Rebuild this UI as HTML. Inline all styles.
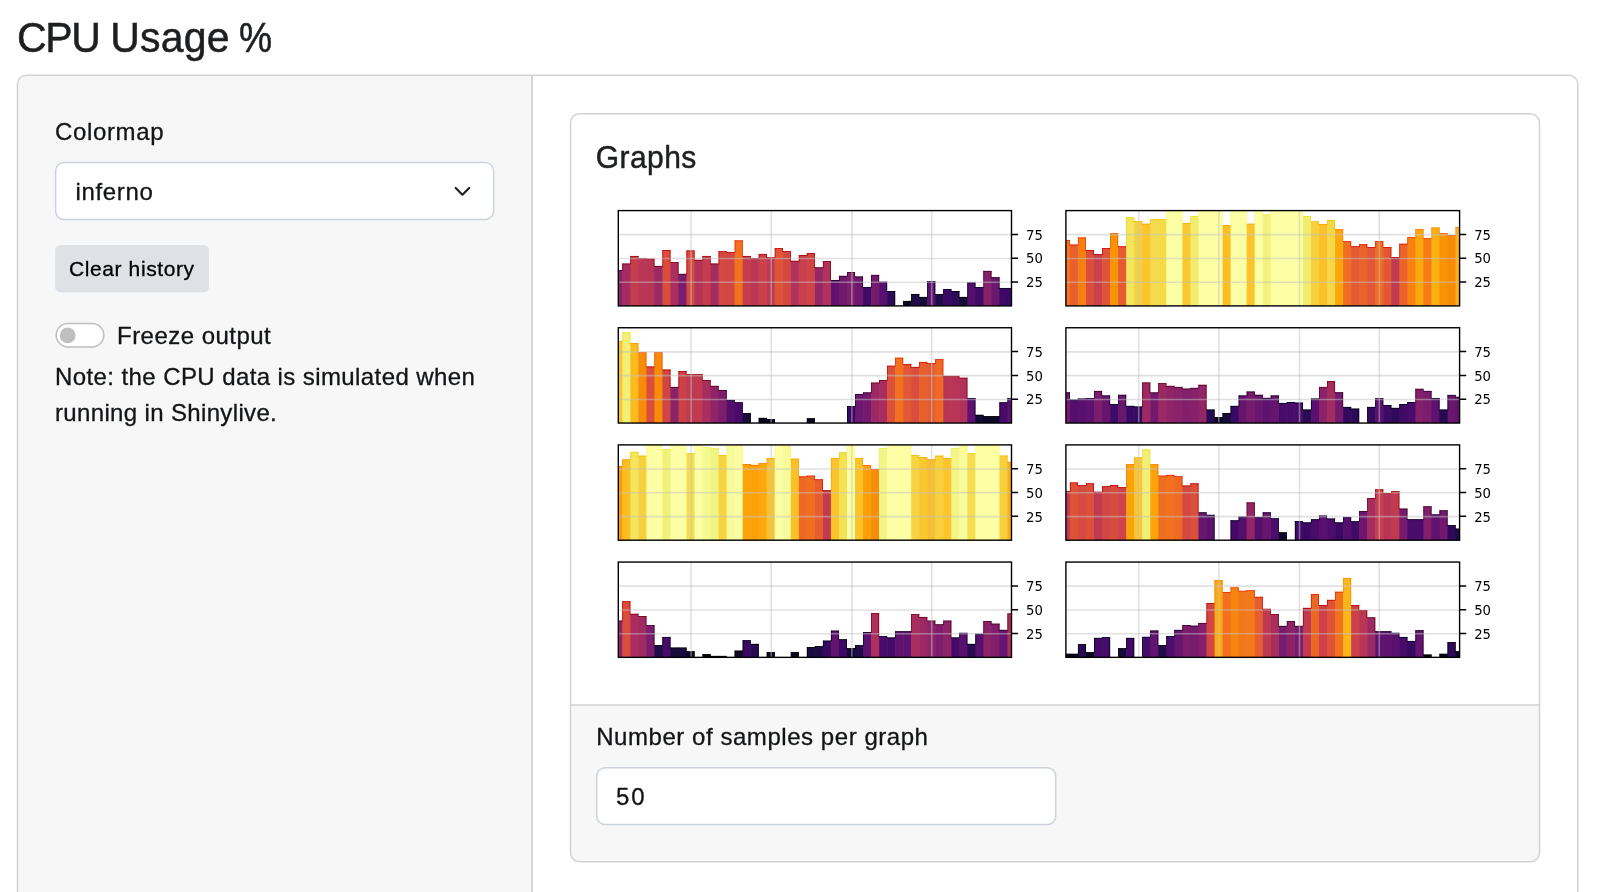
<!DOCTYPE html>
<html lang="en"><head><meta charset="utf-8"><title>CPU Usage %</title>
<style>
html,body{margin:0;padding:0;background:#fff;}
body{will-change:transform;width:1597px;height:892px;overflow:hidden;position:relative;font-family:"Liberation Sans",sans-serif;color:#1d1f21;}
#bg{position:absolute;left:0;top:0;}
.t{position:absolute;white-space:nowrap;line-height:1;margin:0;font-weight:400;}
h2.t{font-size:41px;font-weight:500;top:18.2px;-webkit-text-stroke:0.5px #1d1f21;transform-origin:0 34.4px;transform:scaleY(1.05);}
.lbl{font-size:24px;letter-spacing:0.42px;color:#121416;-webkit-text-stroke:0.3px #121416;}
#plots text{font-family:"DejaVu Sans",sans-serif;font-size:14px;fill:#000;}
</style></head><body>
<svg id="bg" width="1597" height="892" viewBox="0 0 1597 892">
<!-- outer layout -->
<defs><clipPath id="oc"><rect x="17.5" y="75.2" width="1560.3" height="900" rx="9"/></clipPath></defs>
<rect x="17.5" y="75.2" width="515" height="900" fill="#f7f7f7" clip-path="url(#oc)"/>
<path d="M532.0 75.2V892" stroke="#d2d2d2" stroke-width="1.8"/>
<rect x="17.5" y="75.2" width="1560.3" height="900" rx="9" fill="none" stroke="#d2d2d2" stroke-width="1.5"/>
<!-- card -->
<defs><clipPath id="cc"><rect x="570.5" y="113.8" width="969" height="748.0" rx="9"/></clipPath></defs>
<rect x="570.5" y="704.9" width="969" height="160" fill="#f7f7f7" clip-path="url(#cc)"/>
<path d="M570.5 704.9H1539.5" stroke="#d2d2d2" stroke-width="1.5"/>
<rect x="570.5" y="113.8" width="969" height="748.0" rx="9" fill="none" stroke="#d2d2d2" stroke-width="1.5"/>
<!-- select -->
<rect x="55.6" y="162.6" width="438" height="56.9" rx="8.5" fill="#fff" stroke="#ccd3dc" stroke-width="1.5"/>
<path d="M455.7 188l6.7 6.7 6.8-6.7" fill="none" stroke="#1f2328" stroke-width="2.2" stroke-linecap="round" stroke-linejoin="round"/>
<!-- button -->
<rect x="55.2" y="245" width="153.8" height="47.4" rx="5.5" fill="#dee2e6"/>
<!-- switch -->
<rect x="56.2" y="323.5" width="47.6" height="23.5" rx="11.75" fill="#fff" stroke="#bfbfbf" stroke-width="1.5"/>
<circle cx="67.7" cy="335.4" r="7.9" fill="#bfbfbf"/>
<!-- number input -->
<rect x="596.7" y="767.8" width="459" height="56.6" rx="8.5" fill="#fff" stroke="#ccd3dc" stroke-width="1.5"/>
<defs><filter id="soft" x="0" y="0" width="100%" height="100%" filterUnits="userSpaceOnUse" color-interpolation-filters="sRGB"><feGaussianBlur stdDeviation="0.4"/></filter></defs>
<g id="plots" filter="url(#soft)">
<g>
<rect x="618.30" y="210.60" width="393.20" height="95.30" fill="#fff"/>
<clipPath id="cp0"><rect x="618.30" y="210.60" width="393.20" height="95.30"/></clipPath>
<g clip-path="url(#cp0)">
<rect x="621.71" y="269.97" width="1.2" height="35.93" fill="#8a226a"/>
<rect x="629.74" y="263.59" width="1.2" height="42.31" fill="#a52c60"/>
<rect x="637.76" y="258.35" width="1.2" height="47.55" fill="#c43c4e"/>
<rect x="645.79" y="258.73" width="1.2" height="47.17" fill="#ba3655"/>
<rect x="653.81" y="265.97" width="1.2" height="39.93" fill="#b93556"/>
<rect x="661.83" y="265.97" width="1.2" height="39.93" fill="#9b2964"/>
<rect x="669.86" y="262.16" width="1.2" height="43.74" fill="#d94d3d"/>
<rect x="677.88" y="273.88" width="1.2" height="32.02" fill="#ab2f5e"/>
<rect x="685.91" y="273.88" width="1.2" height="32.02" fill="#7a1d6d"/>
<rect x="693.93" y="259.87" width="1.2" height="46.03" fill="#d74b3f"/>
<rect x="701.96" y="259.87" width="1.2" height="46.03" fill="#b43359"/>
<rect x="709.98" y="263.59" width="1.2" height="42.31" fill="#c43c4e"/>
<rect x="718.01" y="263.59" width="1.2" height="42.31" fill="#a52c60"/>
<rect x="726.03" y="252.15" width="1.2" height="53.75" fill="#d44842"/>
<rect x="734.06" y="252.15" width="1.2" height="53.75" fill="#d24644"/>
<rect x="742.08" y="255.96" width="1.2" height="49.94" fill="#f1711f"/>
<rect x="750.10" y="258.06" width="1.2" height="47.84" fill="#c43c4e"/>
<rect x="758.13" y="258.06" width="1.2" height="47.84" fill="#bc3754"/>
<rect x="766.15" y="257.39" width="1.2" height="48.51" fill="#cb4149"/>
<rect x="774.18" y="257.39" width="1.2" height="48.51" fill="#bf3952"/>
<rect x="782.20" y="251.20" width="1.2" height="54.70" fill="#df5337"/>
<rect x="790.23" y="260.82" width="1.2" height="45.08" fill="#d44842"/>
<rect x="798.25" y="260.82" width="1.2" height="45.08" fill="#b1325a"/>
<rect x="806.28" y="255.01" width="1.2" height="50.89" fill="#c73e4c"/>
<rect x="814.30" y="267.40" width="1.2" height="38.50" fill="#cf4446"/>
<rect x="822.32" y="267.40" width="1.2" height="38.50" fill="#952667"/>
<rect x="830.35" y="279.98" width="1.2" height="25.92" fill="#b0315b"/>
<rect x="838.37" y="279.98" width="1.2" height="25.92" fill="#5f136e"/>
<rect x="846.40" y="275.88" width="1.2" height="30.02" fill="#71196e"/>
<rect x="854.42" y="276.55" width="1.2" height="29.35" fill="#801f6c"/>
<rect x="862.45" y="287.13" width="1.2" height="18.77" fill="#6d186e"/>
<rect x="870.47" y="287.13" width="1.2" height="18.77" fill="#400a67"/>
<rect x="878.50" y="281.79" width="1.2" height="24.11" fill="#751b6e"/>
<rect x="886.52" y="291.03" width="1.2" height="14.87" fill="#57106e"/>
<rect x="910.59" y="300.94" width="1.2" height="4.96" fill="#08051d"/>
<rect x="918.62" y="296.94" width="1.2" height="8.96" fill="#210c4a"/>
<rect x="926.64" y="296.94" width="1.2" height="8.96" fill="#150b37"/>
<rect x="934.67" y="294.18" width="1.2" height="11.72" fill="#5a116e"/>
<rect x="942.69" y="294.18" width="1.2" height="11.72" fill="#1f0c48"/>
<rect x="950.72" y="291.03" width="1.2" height="14.87" fill="#380962"/>
<rect x="958.74" y="296.94" width="1.2" height="8.96" fill="#2d0b59"/>
<rect x="966.77" y="296.94" width="1.2" height="8.96" fill="#150b37"/>
<rect x="974.79" y="287.13" width="1.2" height="18.77" fill="#540f6d"/>
<rect x="982.81" y="287.13" width="1.2" height="18.77" fill="#400a67"/>
<rect x="990.84" y="277.31" width="1.2" height="28.59" fill="#85216b"/>
<rect x="998.86" y="287.98" width="1.2" height="17.92" fill="#6a176e"/>
<rect x="1006.89" y="287.98" width="1.2" height="17.92" fill="#3d0965"/>
<rect x="618.30" y="269.97" width="4.01" height="35.93" fill="#8a226a"/>
<rect x="622.31" y="263.59" width="8.02" height="42.31" fill="#a52c60"/>
<rect x="630.34" y="255.96" width="8.02" height="49.94" fill="#c43c4e"/>
<rect x="638.36" y="258.35" width="8.02" height="47.55" fill="#ba3655"/>
<rect x="646.39" y="258.73" width="8.02" height="47.17" fill="#b93556"/>
<rect x="654.41" y="265.97" width="8.02" height="39.93" fill="#9b2964"/>
<rect x="662.43" y="250.05" width="8.02" height="55.85" fill="#d94d3d"/>
<rect x="670.46" y="262.16" width="8.02" height="43.74" fill="#ab2f5e"/>
<rect x="678.48" y="273.88" width="8.02" height="32.02" fill="#7a1d6d"/>
<rect x="686.51" y="250.53" width="8.02" height="55.37" fill="#d74b3f"/>
<rect x="694.53" y="259.87" width="8.02" height="46.03" fill="#b43359"/>
<rect x="702.56" y="255.96" width="8.02" height="49.94" fill="#c43c4e"/>
<rect x="710.58" y="263.59" width="8.02" height="42.31" fill="#a52c60"/>
<rect x="718.61" y="251.20" width="8.02" height="54.70" fill="#d44842"/>
<rect x="726.63" y="252.15" width="8.02" height="53.75" fill="#d24644"/>
<rect x="734.66" y="240.43" width="8.02" height="65.47" fill="#f1711f"/>
<rect x="742.68" y="255.96" width="8.02" height="49.94" fill="#c43c4e"/>
<rect x="750.70" y="258.06" width="8.02" height="47.84" fill="#bc3754"/>
<rect x="758.73" y="253.96" width="8.02" height="51.94" fill="#cb4149"/>
<rect x="766.75" y="257.39" width="8.02" height="48.51" fill="#bf3952"/>
<rect x="774.78" y="248.15" width="8.02" height="57.75" fill="#df5337"/>
<rect x="782.80" y="251.20" width="8.02" height="54.70" fill="#d44842"/>
<rect x="790.83" y="260.82" width="8.02" height="45.08" fill="#b1325a"/>
<rect x="798.85" y="255.01" width="8.02" height="50.89" fill="#c73e4c"/>
<rect x="806.88" y="253.01" width="8.02" height="52.89" fill="#cf4446"/>
<rect x="814.90" y="267.40" width="8.02" height="38.50" fill="#952667"/>
<rect x="822.92" y="261.11" width="8.02" height="44.79" fill="#b0315b"/>
<rect x="830.95" y="279.98" width="8.02" height="25.92" fill="#5f136e"/>
<rect x="838.97" y="275.88" width="8.02" height="30.02" fill="#71196e"/>
<rect x="847.00" y="272.07" width="8.02" height="33.83" fill="#801f6c"/>
<rect x="855.02" y="276.55" width="8.02" height="29.35" fill="#6d186e"/>
<rect x="863.05" y="287.13" width="8.02" height="18.77" fill="#400a67"/>
<rect x="871.07" y="274.93" width="8.02" height="30.97" fill="#751b6e"/>
<rect x="879.10" y="281.79" width="8.02" height="24.11" fill="#57106e"/>
<rect x="887.12" y="291.03" width="8.02" height="14.87" fill="#2d0b59"/>
<rect x="903.17" y="300.94" width="8.02" height="4.96" fill="#08051d"/>
<rect x="911.19" y="293.99" width="8.02" height="11.91" fill="#210c4a"/>
<rect x="919.22" y="296.94" width="8.02" height="8.96" fill="#150b37"/>
<rect x="927.24" y="281.03" width="8.02" height="24.87" fill="#5a116e"/>
<rect x="935.27" y="294.18" width="8.02" height="11.72" fill="#1f0c48"/>
<rect x="943.29" y="289.13" width="8.02" height="16.77" fill="#380962"/>
<rect x="951.32" y="291.03" width="8.02" height="14.87" fill="#2d0b59"/>
<rect x="959.34" y="296.94" width="8.02" height="8.96" fill="#150b37"/>
<rect x="967.37" y="282.46" width="8.02" height="23.44" fill="#540f6d"/>
<rect x="975.39" y="287.13" width="8.02" height="18.77" fill="#400a67"/>
<rect x="983.41" y="270.92" width="8.02" height="34.98" fill="#85216b"/>
<rect x="991.44" y="277.31" width="8.02" height="28.59" fill="#6a176e"/>
<rect x="999.46" y="287.98" width="8.02" height="17.92" fill="#3d0965"/>
<rect x="1007.49" y="287.98" width="4.01" height="17.92" fill="#3d0965"/>
<rect x="618.30" y="269.97" width="4.01" height="0.75" fill="#4f001f"/>
<rect x="622.31" y="263.59" width="8.02" height="0.75" fill="#780011"/>
<rect x="622.31" y="263.59" width="0.75" height="7.14" fill="#780011"/>
<rect x="630.34" y="255.96" width="8.02" height="0.75" fill="#a70000"/>
<rect x="630.34" y="255.96" width="0.75" height="8.37" fill="#a70000"/>
<rect x="637.61" y="255.96" width="0.75" height="3.13" fill="#a70000"/>
<rect x="638.36" y="258.35" width="8.02" height="0.75" fill="#980000"/>
<rect x="645.64" y="258.35" width="0.75" height="1.13" fill="#980000"/>
<rect x="646.39" y="258.73" width="8.02" height="0.75" fill="#950002"/>
<rect x="653.66" y="258.73" width="0.75" height="7.99" fill="#950002"/>
<rect x="654.41" y="265.97" width="8.02" height="0.75" fill="#6a0017"/>
<rect x="662.43" y="250.05" width="8.02" height="0.75" fill="#c60000"/>
<rect x="662.43" y="250.05" width="0.75" height="16.67" fill="#c60000"/>
<rect x="669.71" y="250.05" width="0.75" height="12.85" fill="#c60000"/>
<rect x="670.46" y="262.16" width="8.02" height="0.75" fill="#81000d"/>
<rect x="677.73" y="262.16" width="0.75" height="12.47" fill="#81000d"/>
<rect x="678.48" y="273.88" width="8.02" height="0.75" fill="#380024"/>
<rect x="686.51" y="250.53" width="8.02" height="0.75" fill="#c30000"/>
<rect x="686.51" y="250.53" width="0.75" height="24.10" fill="#c30000"/>
<rect x="693.78" y="250.53" width="0.75" height="10.09" fill="#c30000"/>
<rect x="694.53" y="259.87" width="8.02" height="0.75" fill="#8f0006"/>
<rect x="702.56" y="255.96" width="8.02" height="0.75" fill="#a70000"/>
<rect x="702.56" y="255.96" width="0.75" height="4.66" fill="#a70000"/>
<rect x="709.83" y="255.96" width="0.75" height="8.37" fill="#a70000"/>
<rect x="710.58" y="263.59" width="8.02" height="0.75" fill="#780011"/>
<rect x="718.61" y="251.20" width="8.02" height="0.75" fill="#bf0000"/>
<rect x="718.61" y="251.20" width="0.75" height="13.14" fill="#bf0000"/>
<rect x="725.88" y="251.20" width="0.75" height="1.70" fill="#bf0000"/>
<rect x="726.63" y="252.15" width="8.02" height="0.75" fill="#bb0000"/>
<rect x="734.66" y="240.43" width="8.02" height="0.75" fill="#ea2a00"/>
<rect x="734.66" y="240.43" width="0.75" height="12.47" fill="#ea2a00"/>
<rect x="741.93" y="240.43" width="0.75" height="16.28" fill="#ea2a00"/>
<rect x="742.68" y="255.96" width="8.02" height="0.75" fill="#a70000"/>
<rect x="749.95" y="255.96" width="0.75" height="2.85" fill="#a70000"/>
<rect x="750.70" y="258.06" width="8.02" height="0.75" fill="#9a0000"/>
<rect x="758.73" y="253.96" width="8.02" height="0.75" fill="#b10000"/>
<rect x="758.73" y="253.96" width="0.75" height="4.85" fill="#b10000"/>
<rect x="766.00" y="253.96" width="0.75" height="4.18" fill="#b10000"/>
<rect x="766.75" y="257.39" width="8.02" height="0.75" fill="#9e0000"/>
<rect x="774.78" y="248.15" width="8.02" height="0.75" fill="#cf0000"/>
<rect x="774.78" y="248.15" width="0.75" height="9.99" fill="#cf0000"/>
<rect x="782.05" y="248.15" width="0.75" height="3.80" fill="#cf0000"/>
<rect x="782.80" y="251.20" width="8.02" height="0.75" fill="#bf0000"/>
<rect x="790.08" y="251.20" width="0.75" height="10.38" fill="#bf0000"/>
<rect x="790.83" y="260.82" width="8.02" height="0.75" fill="#8a0008"/>
<rect x="798.85" y="255.01" width="8.02" height="0.75" fill="#ab0000"/>
<rect x="798.85" y="255.01" width="0.75" height="6.56" fill="#ab0000"/>
<rect x="806.88" y="253.01" width="8.02" height="0.75" fill="#b70000"/>
<rect x="806.88" y="253.01" width="0.75" height="2.75" fill="#b70000"/>
<rect x="814.15" y="253.01" width="0.75" height="15.14" fill="#b70000"/>
<rect x="814.90" y="267.40" width="8.02" height="0.75" fill="#60001a"/>
<rect x="822.92" y="261.11" width="8.02" height="0.75" fill="#880009"/>
<rect x="822.92" y="261.11" width="0.75" height="7.04" fill="#880009"/>
<rect x="830.20" y="261.11" width="0.75" height="19.62" fill="#880009"/>
<rect x="830.95" y="279.98" width="8.02" height="0.75" fill="#0f0026"/>
<rect x="838.97" y="275.88" width="8.02" height="0.75" fill="#290026"/>
<rect x="838.97" y="275.88" width="0.75" height="4.85" fill="#290026"/>
<rect x="847.00" y="272.07" width="8.02" height="0.75" fill="#410022"/>
<rect x="847.00" y="272.07" width="0.75" height="4.56" fill="#410022"/>
<rect x="854.27" y="272.07" width="0.75" height="5.23" fill="#410022"/>
<rect x="855.02" y="276.55" width="8.02" height="0.75" fill="#250026"/>
<rect x="862.30" y="276.55" width="0.75" height="11.33" fill="#250026"/>
<rect x="863.05" y="287.13" width="8.02" height="0.75" fill="#00001b"/>
<rect x="871.07" y="274.93" width="8.02" height="0.75" fill="#300025"/>
<rect x="871.07" y="274.93" width="0.75" height="12.95" fill="#300025"/>
<rect x="878.35" y="274.93" width="0.75" height="7.61" fill="#300025"/>
<rect x="879.10" y="281.79" width="8.02" height="0.75" fill="#030025"/>
<rect x="886.37" y="281.79" width="0.75" height="9.99" fill="#030025"/>
<rect x="887.12" y="291.03" width="8.02" height="0.75" fill="#000006"/>
<rect x="894.39" y="291.03" width="0.75" height="14.87" fill="#000006"/>
<rect x="903.17" y="300.94" width="8.02" height="0.75" fill="#000000"/>
<rect x="903.17" y="300.94" width="0.75" height="4.96" fill="#000000"/>
<rect x="911.19" y="293.99" width="8.02" height="0.75" fill="#000000"/>
<rect x="911.19" y="293.99" width="0.75" height="7.71" fill="#000000"/>
<rect x="918.47" y="293.99" width="0.75" height="3.70" fill="#000000"/>
<rect x="919.22" y="296.94" width="8.02" height="0.75" fill="#000000"/>
<rect x="927.24" y="281.03" width="8.02" height="0.75" fill="#080025"/>
<rect x="927.24" y="281.03" width="0.75" height="16.67" fill="#080025"/>
<rect x="934.52" y="281.03" width="0.75" height="13.90" fill="#080025"/>
<rect x="935.27" y="294.18" width="8.02" height="0.75" fill="#000000"/>
<rect x="943.29" y="289.13" width="8.02" height="0.75" fill="#000013"/>
<rect x="943.29" y="289.13" width="0.75" height="5.80" fill="#000013"/>
<rect x="950.57" y="289.13" width="0.75" height="2.66" fill="#000013"/>
<rect x="951.32" y="291.03" width="8.02" height="0.75" fill="#000006"/>
<rect x="958.59" y="291.03" width="0.75" height="6.66" fill="#000006"/>
<rect x="959.34" y="296.94" width="8.02" height="0.75" fill="#000000"/>
<rect x="967.37" y="282.46" width="8.02" height="0.75" fill="#000024"/>
<rect x="967.37" y="282.46" width="0.75" height="15.24" fill="#000024"/>
<rect x="974.64" y="282.46" width="0.75" height="5.42" fill="#000024"/>
<rect x="975.39" y="287.13" width="8.02" height="0.75" fill="#00001b"/>
<rect x="983.41" y="270.92" width="8.02" height="0.75" fill="#480021"/>
<rect x="983.41" y="270.92" width="0.75" height="16.95" fill="#480021"/>
<rect x="990.69" y="270.92" width="0.75" height="7.14" fill="#480021"/>
<rect x="991.44" y="277.31" width="8.02" height="0.75" fill="#200026"/>
<rect x="998.71" y="277.31" width="0.75" height="11.42" fill="#200026"/>
<rect x="999.46" y="287.98" width="8.02" height="0.75" fill="#000018"/>
<rect x="1007.49" y="287.98" width="4.01" height="0.75" fill="#000018"/>
</g>
<path d="M691.10 210.60V305.90M771.20 210.60V305.90M851.90 210.60V305.90M931.70 210.60V305.90" stroke="#c4c4c4" stroke-opacity="0.5" stroke-width="1.6" fill="none"/>
<path d="M618.30 282.32H1011.50M618.30 258.50H1011.50M618.30 234.67H1011.50" stroke="#c4c4c4" stroke-opacity="0.5" stroke-width="1.6" fill="none"/>
<path d="M1011.50 282.07h6.6M1011.50 258.25h6.6M1011.50 234.42h6.6" stroke="#000" stroke-width="1.5" fill="none"/>
<rect x="618.30" y="210.60" width="393.20" height="95.30" fill="none" stroke="#000" stroke-width="1.4"/>
<text transform="translate(1026.10,287.22) scale(0.945,1)">25</text>
<text transform="translate(1026.10,263.40) scale(0.945,1)">50</text>
<text transform="translate(1026.10,239.57) scale(0.945,1)">75</text>
</g>
<g>
<rect x="1065.90" y="210.60" width="393.70" height="95.30" fill="#fff"/>
<clipPath id="cp1"><rect x="1065.90" y="210.60" width="393.70" height="95.30"/></clipPath>
<g clip-path="url(#cp1)">
<rect x="1069.32" y="244.62" width="1.2" height="61.28" fill="#f2741c"/>
<rect x="1077.35" y="244.62" width="1.2" height="61.28" fill="#e8602d"/>
<rect x="1085.39" y="250.05" width="1.2" height="55.85" fill="#f67e14"/>
<rect x="1093.42" y="254.25" width="1.2" height="51.65" fill="#d94d3d"/>
<rect x="1101.46" y="254.25" width="1.2" height="51.65" fill="#ca404a"/>
<rect x="1109.49" y="248.15" width="1.2" height="57.75" fill="#df5337"/>
<rect x="1117.53" y="246.34" width="1.2" height="59.56" fill="#fa9407"/>
<rect x="1125.56" y="246.34" width="1.2" height="59.56" fill="#e45a31"/>
<rect x="1133.59" y="221.27" width="1.2" height="84.63" fill="#f3e55d"/>
<rect x="1141.63" y="223.75" width="1.2" height="82.15" fill="#f7d13d"/>
<rect x="1149.66" y="223.75" width="1.2" height="82.15" fill="#fac42a"/>
<rect x="1157.70" y="219.18" width="1.2" height="86.72" fill="#f5db4c"/>
<rect x="1165.73" y="219.18" width="1.2" height="86.72" fill="#f5db4c"/>
<rect x="1173.77" y="210.60" width="1.2" height="95.30" fill="#fcffa4"/>
<rect x="1181.80" y="223.18" width="1.2" height="82.72" fill="#fcffa4"/>
<rect x="1189.84" y="223.18" width="1.2" height="82.72" fill="#f9c72f"/>
<rect x="1197.87" y="216.13" width="1.2" height="89.77" fill="#f1ec6d"/>
<rect x="1205.91" y="210.60" width="1.2" height="95.30" fill="#fcffa4"/>
<rect x="1213.94" y="210.60" width="1.2" height="95.30" fill="#fcffa4"/>
<rect x="1221.98" y="225.09" width="1.2" height="80.81" fill="#fcffa4"/>
<rect x="1230.01" y="225.09" width="1.2" height="80.81" fill="#fbbe23"/>
<rect x="1238.05" y="210.60" width="1.2" height="95.30" fill="#fcffa4"/>
<rect x="1246.08" y="223.75" width="1.2" height="82.15" fill="#fcffa4"/>
<rect x="1254.12" y="223.75" width="1.2" height="82.15" fill="#fac42a"/>
<rect x="1262.15" y="214.41" width="1.2" height="91.49" fill="#fcffa4"/>
<rect x="1270.18" y="214.41" width="1.2" height="91.49" fill="#f2f27d"/>
<rect x="1278.22" y="210.60" width="1.2" height="95.30" fill="#fcffa4"/>
<rect x="1286.25" y="210.60" width="1.2" height="95.30" fill="#fcffa4"/>
<rect x="1294.29" y="210.60" width="1.2" height="95.30" fill="#fcffa4"/>
<rect x="1302.32" y="216.13" width="1.2" height="89.77" fill="#fcffa4"/>
<rect x="1310.36" y="221.37" width="1.2" height="84.53" fill="#f1ec6d"/>
<rect x="1318.39" y="224.04" width="1.2" height="81.86" fill="#f7d13d"/>
<rect x="1326.43" y="224.04" width="1.2" height="81.86" fill="#fac228"/>
<rect x="1334.46" y="229.18" width="1.2" height="76.72" fill="#f6d746"/>
<rect x="1342.50" y="241.29" width="1.2" height="64.61" fill="#fca80d"/>
<rect x="1350.53" y="246.34" width="1.2" height="59.56" fill="#ef6e21"/>
<rect x="1358.57" y="246.34" width="1.2" height="59.56" fill="#e45a31"/>
<rect x="1366.60" y="247.10" width="1.2" height="58.80" fill="#e9612b"/>
<rect x="1374.64" y="247.10" width="1.2" height="58.80" fill="#e15635"/>
<rect x="1382.67" y="247.10" width="1.2" height="58.80" fill="#ef6e21"/>
<rect x="1390.71" y="257.11" width="1.2" height="48.79" fill="#e15635"/>
<rect x="1398.74" y="257.11" width="1.2" height="48.79" fill="#c03a51"/>
<rect x="1406.77" y="243.76" width="1.2" height="62.14" fill="#ea632a"/>
<rect x="1414.81" y="237.00" width="1.2" height="68.90" fill="#f78212"/>
<rect x="1422.84" y="238.24" width="1.2" height="67.66" fill="#fca80d"/>
<rect x="1430.88" y="238.24" width="1.2" height="67.66" fill="#f57b17"/>
<rect x="1438.91" y="233.09" width="1.2" height="72.81" fill="#fcb014"/>
<rect x="1446.95" y="235.00" width="1.2" height="70.90" fill="#fa9407"/>
<rect x="1454.98" y="235.00" width="1.2" height="70.90" fill="#f98b0b"/>
<rect x="1065.90" y="239.95" width="4.02" height="65.95" fill="#f2741c"/>
<rect x="1069.92" y="244.62" width="8.03" height="61.28" fill="#e8602d"/>
<rect x="1077.95" y="237.47" width="8.03" height="68.43" fill="#f67e14"/>
<rect x="1085.99" y="250.05" width="8.03" height="55.85" fill="#d94d3d"/>
<rect x="1094.02" y="254.25" width="8.03" height="51.65" fill="#ca404a"/>
<rect x="1102.06" y="248.15" width="8.03" height="57.75" fill="#df5337"/>
<rect x="1110.09" y="233.09" width="8.03" height="72.81" fill="#fa9407"/>
<rect x="1118.13" y="246.34" width="8.03" height="59.56" fill="#e45a31"/>
<rect x="1126.16" y="217.37" width="8.03" height="88.53" fill="#f3e55d"/>
<rect x="1134.19" y="221.27" width="8.03" height="84.63" fill="#f7d13d"/>
<rect x="1142.23" y="223.75" width="8.03" height="82.15" fill="#fac42a"/>
<rect x="1150.26" y="219.18" width="8.03" height="86.72" fill="#f5db4c"/>
<rect x="1158.30" y="219.18" width="8.03" height="86.72" fill="#f5db4c"/>
<rect x="1166.33" y="210.60" width="8.03" height="95.30" fill="#fcffa4"/>
<rect x="1174.37" y="210.60" width="8.03" height="95.30" fill="#fcffa4"/>
<rect x="1182.40" y="223.18" width="8.03" height="82.72" fill="#f9c72f"/>
<rect x="1190.44" y="216.13" width="8.03" height="89.77" fill="#f1ec6d"/>
<rect x="1198.47" y="210.60" width="8.03" height="95.30" fill="#fcffa4"/>
<rect x="1206.51" y="210.60" width="8.03" height="95.30" fill="#fcffa4"/>
<rect x="1214.54" y="210.60" width="8.03" height="95.30" fill="#fcffa4"/>
<rect x="1222.58" y="225.09" width="8.03" height="80.81" fill="#fbbe23"/>
<rect x="1230.61" y="210.60" width="8.03" height="95.30" fill="#fcffa4"/>
<rect x="1238.65" y="210.60" width="8.03" height="95.30" fill="#fcffa4"/>
<rect x="1246.68" y="223.75" width="8.03" height="82.15" fill="#fac42a"/>
<rect x="1254.72" y="210.60" width="8.03" height="95.30" fill="#fcffa4"/>
<rect x="1262.75" y="214.41" width="8.03" height="91.49" fill="#f2f27d"/>
<rect x="1270.78" y="210.60" width="8.03" height="95.30" fill="#fcffa4"/>
<rect x="1278.82" y="210.60" width="8.03" height="95.30" fill="#fcffa4"/>
<rect x="1286.85" y="210.60" width="8.03" height="95.30" fill="#fcffa4"/>
<rect x="1294.89" y="210.60" width="8.03" height="95.30" fill="#fcffa4"/>
<rect x="1302.92" y="216.13" width="8.03" height="89.77" fill="#f1ec6d"/>
<rect x="1310.96" y="221.37" width="8.03" height="84.53" fill="#f7d13d"/>
<rect x="1318.99" y="224.04" width="8.03" height="81.86" fill="#fac228"/>
<rect x="1327.03" y="220.13" width="8.03" height="85.77" fill="#f6d746"/>
<rect x="1335.06" y="229.18" width="8.03" height="76.72" fill="#fca80d"/>
<rect x="1343.10" y="241.29" width="8.03" height="64.61" fill="#ef6e21"/>
<rect x="1351.13" y="246.34" width="8.03" height="59.56" fill="#e45a31"/>
<rect x="1359.17" y="244.34" width="8.03" height="61.56" fill="#e9612b"/>
<rect x="1367.20" y="247.10" width="8.03" height="58.80" fill="#e15635"/>
<rect x="1375.24" y="241.29" width="8.03" height="64.61" fill="#ef6e21"/>
<rect x="1383.27" y="247.10" width="8.03" height="58.80" fill="#e15635"/>
<rect x="1391.31" y="257.11" width="8.03" height="48.79" fill="#c03a51"/>
<rect x="1399.34" y="243.76" width="8.03" height="62.14" fill="#ea632a"/>
<rect x="1407.37" y="237.00" width="8.03" height="68.90" fill="#f78212"/>
<rect x="1415.41" y="229.18" width="8.03" height="76.72" fill="#fca80d"/>
<rect x="1423.44" y="238.24" width="8.03" height="67.66" fill="#f57b17"/>
<rect x="1431.48" y="227.56" width="8.03" height="78.34" fill="#fcb014"/>
<rect x="1439.51" y="233.09" width="8.03" height="72.81" fill="#fa9407"/>
<rect x="1447.55" y="235.00" width="8.03" height="70.90" fill="#f98b0b"/>
<rect x="1455.58" y="226.99" width="4.02" height="78.91" fill="#fcb216"/>
<rect x="1065.90" y="239.95" width="4.02" height="0.75" fill="#ec2f00"/>
<rect x="1069.17" y="239.95" width="0.75" height="5.42" fill="#ec2f00"/>
<rect x="1069.92" y="244.62" width="8.03" height="0.75" fill="#dc1000"/>
<rect x="1077.95" y="237.47" width="8.03" height="0.75" fill="#f13e00"/>
<rect x="1077.95" y="237.47" width="0.75" height="7.90" fill="#f13e00"/>
<rect x="1085.24" y="237.47" width="0.75" height="13.33" fill="#f13e00"/>
<rect x="1085.99" y="250.05" width="8.03" height="0.75" fill="#c60000"/>
<rect x="1093.27" y="250.05" width="0.75" height="4.94" fill="#c60000"/>
<rect x="1094.02" y="254.25" width="8.03" height="0.75" fill="#af0000"/>
<rect x="1102.06" y="248.15" width="8.03" height="0.75" fill="#cf0000"/>
<rect x="1102.06" y="248.15" width="0.75" height="6.85" fill="#cf0000"/>
<rect x="1110.09" y="233.09" width="8.03" height="0.75" fill="#f85e00"/>
<rect x="1110.09" y="233.09" width="0.75" height="15.81" fill="#f85e00"/>
<rect x="1117.38" y="233.09" width="0.75" height="14.00" fill="#f85e00"/>
<rect x="1118.13" y="246.34" width="8.03" height="0.75" fill="#d70800"/>
<rect x="1126.16" y="217.37" width="8.03" height="0.75" fill="#ecd70c"/>
<rect x="1126.16" y="217.37" width="0.75" height="29.72" fill="#ecd70c"/>
<rect x="1133.44" y="217.37" width="0.75" height="4.66" fill="#ecd70c"/>
<rect x="1134.19" y="221.27" width="8.03" height="0.75" fill="#f3ba00"/>
<rect x="1141.48" y="221.27" width="0.75" height="3.23" fill="#f3ba00"/>
<rect x="1142.23" y="223.75" width="8.03" height="0.75" fill="#f7a600"/>
<rect x="1150.26" y="219.18" width="8.03" height="0.75" fill="#f0c900"/>
<rect x="1150.26" y="219.18" width="0.75" height="5.32" fill="#f0c900"/>
<rect x="1158.30" y="219.18" width="8.03" height="0.75" fill="#f0c900"/>
<rect x="1166.33" y="210.60" width="0.75" height="9.33" fill="#fbfe77"/>
<rect x="1181.65" y="210.60" width="0.75" height="13.33" fill="#fbfe77"/>
<rect x="1182.40" y="223.18" width="8.03" height="0.75" fill="#f6ac00"/>
<rect x="1190.44" y="216.13" width="8.03" height="0.75" fill="#ebe224"/>
<rect x="1190.44" y="216.13" width="0.75" height="7.80" fill="#ebe224"/>
<rect x="1198.47" y="210.60" width="0.75" height="6.28" fill="#fbfe77"/>
<rect x="1221.83" y="210.60" width="0.75" height="15.24" fill="#fbfe77"/>
<rect x="1222.58" y="225.09" width="8.03" height="0.75" fill="#f99d00"/>
<rect x="1230.61" y="210.60" width="0.75" height="15.24" fill="#fbfe77"/>
<rect x="1245.93" y="210.60" width="0.75" height="13.90" fill="#fbfe77"/>
<rect x="1246.68" y="223.75" width="8.03" height="0.75" fill="#f7a600"/>
<rect x="1254.72" y="210.60" width="0.75" height="13.90" fill="#fbfe77"/>
<rect x="1262.00" y="210.60" width="0.75" height="4.56" fill="#fbfe77"/>
<rect x="1262.75" y="214.41" width="8.03" height="0.75" fill="#ebec3c"/>
<rect x="1270.78" y="210.60" width="0.75" height="4.56" fill="#fbfe77"/>
<rect x="1302.17" y="210.60" width="0.75" height="6.28" fill="#fbfe77"/>
<rect x="1302.92" y="216.13" width="8.03" height="0.75" fill="#ebe224"/>
<rect x="1310.21" y="216.13" width="0.75" height="5.99" fill="#ebe224"/>
<rect x="1310.96" y="221.37" width="8.03" height="0.75" fill="#f3ba00"/>
<rect x="1318.24" y="221.37" width="0.75" height="3.42" fill="#f3ba00"/>
<rect x="1318.99" y="224.04" width="8.03" height="0.75" fill="#f8a300"/>
<rect x="1327.03" y="220.13" width="8.03" height="0.75" fill="#f1c300"/>
<rect x="1327.03" y="220.13" width="0.75" height="4.66" fill="#f1c300"/>
<rect x="1334.31" y="220.13" width="0.75" height="9.80" fill="#f1c300"/>
<rect x="1335.06" y="229.18" width="8.03" height="0.75" fill="#fa7d00"/>
<rect x="1342.35" y="229.18" width="0.75" height="12.85" fill="#fa7d00"/>
<rect x="1343.10" y="241.29" width="8.03" height="0.75" fill="#e82500"/>
<rect x="1350.38" y="241.29" width="0.75" height="5.80" fill="#e82500"/>
<rect x="1351.13" y="246.34" width="8.03" height="0.75" fill="#d70800"/>
<rect x="1359.17" y="244.34" width="8.03" height="0.75" fill="#de1200"/>
<rect x="1359.17" y="244.34" width="0.75" height="2.75" fill="#de1200"/>
<rect x="1366.45" y="244.34" width="0.75" height="3.51" fill="#de1200"/>
<rect x="1367.20" y="247.10" width="8.03" height="0.75" fill="#d20200"/>
<rect x="1375.24" y="241.29" width="8.03" height="0.75" fill="#e82500"/>
<rect x="1375.24" y="241.29" width="0.75" height="6.56" fill="#e82500"/>
<rect x="1382.52" y="241.29" width="0.75" height="6.56" fill="#e82500"/>
<rect x="1383.27" y="247.10" width="8.03" height="0.75" fill="#d20200"/>
<rect x="1390.56" y="247.10" width="0.75" height="10.76" fill="#d20200"/>
<rect x="1391.31" y="257.11" width="8.03" height="0.75" fill="#a00000"/>
<rect x="1399.34" y="243.76" width="8.03" height="0.75" fill="#df1500"/>
<rect x="1399.34" y="243.76" width="0.75" height="14.09" fill="#df1500"/>
<rect x="1407.37" y="237.00" width="8.03" height="0.75" fill="#f34300"/>
<rect x="1407.37" y="237.00" width="0.75" height="7.52" fill="#f34300"/>
<rect x="1415.41" y="229.18" width="8.03" height="0.75" fill="#fa7d00"/>
<rect x="1415.41" y="229.18" width="0.75" height="8.56" fill="#fa7d00"/>
<rect x="1422.69" y="229.18" width="0.75" height="9.80" fill="#fa7d00"/>
<rect x="1423.44" y="238.24" width="8.03" height="0.75" fill="#ef3900"/>
<rect x="1431.48" y="227.56" width="8.03" height="0.75" fill="#fa8900"/>
<rect x="1431.48" y="227.56" width="0.75" height="11.42" fill="#fa8900"/>
<rect x="1438.76" y="227.56" width="0.75" height="6.28" fill="#fa8900"/>
<rect x="1439.51" y="233.09" width="8.03" height="0.75" fill="#f85e00"/>
<rect x="1446.80" y="233.09" width="0.75" height="2.66" fill="#f85e00"/>
<rect x="1447.55" y="235.00" width="8.03" height="0.75" fill="#f65100"/>
<rect x="1455.58" y="226.99" width="4.02" height="0.75" fill="#fa8b00"/>
<rect x="1455.58" y="226.99" width="0.75" height="8.76" fill="#fa8b00"/>
</g>
<path d="M1138.70 210.60V305.90M1218.80 210.60V305.90M1299.50 210.60V305.90M1379.30 210.60V305.90" stroke="#c4c4c4" stroke-opacity="0.5" stroke-width="1.6" fill="none"/>
<path d="M1065.90 282.32H1459.60M1065.90 258.50H1459.60M1065.90 234.67H1459.60" stroke="#c4c4c4" stroke-opacity="0.5" stroke-width="1.6" fill="none"/>
<path d="M1459.60 282.07h6.6M1459.60 258.25h6.6M1459.60 234.42h6.6" stroke="#000" stroke-width="1.5" fill="none"/>
<rect x="1065.90" y="210.60" width="393.70" height="95.30" fill="none" stroke="#000" stroke-width="1.4"/>
<text transform="translate(1474.20,287.22) scale(0.945,1)">25</text>
<text transform="translate(1474.20,263.40) scale(0.945,1)">50</text>
<text transform="translate(1474.20,239.57) scale(0.945,1)">75</text>
</g>
<g>
<rect x="618.30" y="327.75" width="393.20" height="95.30" fill="#fff"/>
<clipPath id="cp2"><rect x="618.30" y="327.75" width="393.20" height="95.30"/></clipPath>
<g clip-path="url(#cp2)">
<rect x="621.71" y="341.00" width="1.2" height="82.05" fill="#fac42a"/>
<rect x="629.74" y="343.00" width="1.2" height="80.05" fill="#f1ef75"/>
<rect x="637.76" y="352.05" width="1.2" height="71.00" fill="#fbba1f"/>
<rect x="645.79" y="366.54" width="1.2" height="56.51" fill="#f98b0b"/>
<rect x="653.81" y="366.54" width="1.2" height="56.51" fill="#da4e3c"/>
<rect x="661.83" y="369.59" width="1.2" height="53.46" fill="#f98b0b"/>
<rect x="669.86" y="386.93" width="1.2" height="36.12" fill="#d04545"/>
<rect x="677.88" y="386.93" width="1.2" height="36.12" fill="#8c2369"/>
<rect x="685.91" y="374.07" width="1.2" height="48.98" fill="#cb4149"/>
<rect x="693.93" y="374.07" width="1.2" height="48.98" fill="#c03a51"/>
<rect x="701.96" y="380.07" width="1.2" height="42.98" fill="#c03a51"/>
<rect x="709.98" y="385.88" width="1.2" height="37.17" fill="#a82e5f"/>
<rect x="718.01" y="389.98" width="1.2" height="33.07" fill="#8f2469"/>
<rect x="726.03" y="399.89" width="1.2" height="23.16" fill="#7d1e6d"/>
<rect x="734.06" y="402.37" width="1.2" height="20.68" fill="#540f6d"/>
<rect x="742.08" y="413.14" width="1.2" height="9.91" fill="#490b6a"/>
<rect x="766.15" y="419.24" width="1.2" height="3.81" fill="#08051d"/>
<rect x="854.42" y="406.18" width="1.2" height="16.87" fill="#380962"/>
<rect x="862.45" y="394.08" width="1.2" height="28.97" fill="#6c186e"/>
<rect x="870.47" y="392.46" width="1.2" height="30.59" fill="#741a6e"/>
<rect x="878.50" y="382.64" width="1.2" height="40.41" fill="#9d2964"/>
<rect x="886.52" y="380.07" width="1.2" height="42.98" fill="#a82e5f"/>
<rect x="894.54" y="365.77" width="1.2" height="57.28" fill="#dd513a"/>
<rect x="902.57" y="364.06" width="1.2" height="58.99" fill="#f1711f"/>
<rect x="910.59" y="366.92" width="1.2" height="56.13" fill="#e25734"/>
<rect x="918.62" y="366.92" width="1.2" height="56.13" fill="#d94d3d"/>
<rect x="926.64" y="363.20" width="1.2" height="59.85" fill="#e8602d"/>
<rect x="934.67" y="363.20" width="1.2" height="59.85" fill="#e45a31"/>
<rect x="942.69" y="375.88" width="1.2" height="47.17" fill="#ee6a24"/>
<rect x="950.72" y="375.88" width="1.2" height="47.17" fill="#b93556"/>
<rect x="958.74" y="377.78" width="1.2" height="45.27" fill="#b93556"/>
<rect x="966.77" y="397.99" width="1.2" height="25.06" fill="#b1325a"/>
<rect x="974.79" y="414.85" width="1.2" height="8.20" fill="#5c126e"/>
<rect x="982.81" y="416.19" width="1.2" height="6.86" fill="#120a32"/>
<rect x="990.84" y="416.19" width="1.2" height="6.86" fill="#0d0829"/>
<rect x="998.86" y="416.19" width="1.2" height="6.86" fill="#0d0829"/>
<rect x="1006.89" y="402.37" width="1.2" height="20.68" fill="#490b6a"/>
<rect x="618.30" y="341.00" width="4.01" height="82.05" fill="#fac42a"/>
<rect x="622.31" y="332.23" width="8.02" height="90.82" fill="#f1ef75"/>
<rect x="630.34" y="343.00" width="8.02" height="80.05" fill="#fbba1f"/>
<rect x="638.36" y="352.05" width="8.02" height="71.00" fill="#f98b0b"/>
<rect x="646.39" y="366.54" width="8.02" height="56.51" fill="#da4e3c"/>
<rect x="654.41" y="352.05" width="8.02" height="71.00" fill="#f98b0b"/>
<rect x="662.43" y="369.59" width="8.02" height="53.46" fill="#d04545"/>
<rect x="670.46" y="386.93" width="8.02" height="36.12" fill="#8c2369"/>
<rect x="678.48" y="371.02" width="8.02" height="52.03" fill="#cb4149"/>
<rect x="686.51" y="374.07" width="8.02" height="48.98" fill="#c03a51"/>
<rect x="694.53" y="374.07" width="8.02" height="48.98" fill="#c03a51"/>
<rect x="702.56" y="380.07" width="8.02" height="42.98" fill="#a82e5f"/>
<rect x="710.58" y="385.88" width="8.02" height="37.17" fill="#8f2469"/>
<rect x="718.61" y="389.98" width="8.02" height="33.07" fill="#7d1e6d"/>
<rect x="726.63" y="399.89" width="8.02" height="23.16" fill="#540f6d"/>
<rect x="734.66" y="402.37" width="8.02" height="20.68" fill="#490b6a"/>
<rect x="742.68" y="413.14" width="8.02" height="9.91" fill="#180c3c"/>
<rect x="758.73" y="417.90" width="8.02" height="5.15" fill="#08051d"/>
<rect x="766.75" y="419.24" width="8.02" height="3.81" fill="#050417"/>
<rect x="806.88" y="418.38" width="8.02" height="4.67" fill="#07051b"/>
<rect x="847.00" y="406.18" width="8.02" height="16.87" fill="#380962"/>
<rect x="855.02" y="394.08" width="8.02" height="28.97" fill="#6c186e"/>
<rect x="863.05" y="392.46" width="8.02" height="30.59" fill="#741a6e"/>
<rect x="871.07" y="382.64" width="8.02" height="40.41" fill="#9d2964"/>
<rect x="879.10" y="380.07" width="8.02" height="42.98" fill="#a82e5f"/>
<rect x="887.12" y="365.77" width="8.02" height="57.28" fill="#dd513a"/>
<rect x="895.14" y="357.77" width="8.02" height="65.28" fill="#f1711f"/>
<rect x="903.17" y="364.06" width="8.02" height="58.99" fill="#e25734"/>
<rect x="911.19" y="366.92" width="8.02" height="56.13" fill="#d94d3d"/>
<rect x="919.22" y="361.96" width="8.02" height="61.09" fill="#e8602d"/>
<rect x="927.24" y="363.20" width="8.02" height="59.85" fill="#e45a31"/>
<rect x="935.27" y="359.29" width="8.02" height="63.76" fill="#ee6a24"/>
<rect x="943.29" y="375.88" width="8.02" height="47.17" fill="#b93556"/>
<rect x="951.32" y="375.88" width="8.02" height="47.17" fill="#b93556"/>
<rect x="959.34" y="377.78" width="8.02" height="45.27" fill="#b1325a"/>
<rect x="967.37" y="397.99" width="8.02" height="25.06" fill="#5c126e"/>
<rect x="975.39" y="414.85" width="8.02" height="8.20" fill="#120a32"/>
<rect x="983.41" y="416.19" width="8.02" height="6.86" fill="#0d0829"/>
<rect x="991.44" y="416.19" width="8.02" height="6.86" fill="#0d0829"/>
<rect x="999.46" y="402.37" width="8.02" height="20.68" fill="#490b6a"/>
<rect x="1007.49" y="397.99" width="4.01" height="25.06" fill="#5c126e"/>
<rect x="618.30" y="341.00" width="4.01" height="0.75" fill="#f7a600"/>
<rect x="622.31" y="332.23" width="8.02" height="0.75" fill="#eae730"/>
<rect x="622.31" y="332.23" width="0.75" height="9.52" fill="#eae730"/>
<rect x="629.59" y="332.23" width="0.75" height="11.52" fill="#eae730"/>
<rect x="630.34" y="343.00" width="8.02" height="0.75" fill="#f99700"/>
<rect x="637.61" y="343.00" width="0.75" height="9.80" fill="#f99700"/>
<rect x="638.36" y="352.05" width="8.02" height="0.75" fill="#f65100"/>
<rect x="645.64" y="352.05" width="0.75" height="15.24" fill="#f65100"/>
<rect x="646.39" y="366.54" width="8.02" height="0.75" fill="#c80000"/>
<rect x="654.41" y="352.05" width="8.02" height="0.75" fill="#f65100"/>
<rect x="654.41" y="352.05" width="0.75" height="15.24" fill="#f65100"/>
<rect x="661.68" y="352.05" width="0.75" height="18.29" fill="#f65100"/>
<rect x="662.43" y="369.59" width="8.02" height="0.75" fill="#b90000"/>
<rect x="669.71" y="369.59" width="0.75" height="18.09" fill="#b90000"/>
<rect x="670.46" y="386.93" width="8.02" height="0.75" fill="#52001f"/>
<rect x="678.48" y="371.02" width="8.02" height="0.75" fill="#b10000"/>
<rect x="678.48" y="371.02" width="0.75" height="16.67" fill="#b10000"/>
<rect x="685.76" y="371.02" width="0.75" height="3.80" fill="#b10000"/>
<rect x="686.51" y="374.07" width="8.02" height="0.75" fill="#a00000"/>
<rect x="694.53" y="374.07" width="8.02" height="0.75" fill="#a00000"/>
<rect x="701.81" y="374.07" width="0.75" height="6.75" fill="#a00000"/>
<rect x="702.56" y="380.07" width="8.02" height="0.75" fill="#7c000f"/>
<rect x="709.83" y="380.07" width="0.75" height="6.56" fill="#7c000f"/>
<rect x="710.58" y="385.88" width="8.02" height="0.75" fill="#57001d"/>
<rect x="717.86" y="385.88" width="0.75" height="4.85" fill="#57001d"/>
<rect x="718.61" y="389.98" width="8.02" height="0.75" fill="#3c0023"/>
<rect x="725.88" y="389.98" width="0.75" height="10.66" fill="#3c0023"/>
<rect x="726.63" y="399.89" width="8.02" height="0.75" fill="#000024"/>
<rect x="733.91" y="399.89" width="0.75" height="3.23" fill="#000024"/>
<rect x="734.66" y="402.37" width="8.02" height="0.75" fill="#000020"/>
<rect x="741.93" y="402.37" width="0.75" height="11.52" fill="#000020"/>
<rect x="742.68" y="413.14" width="8.02" height="0.75" fill="#000000"/>
<rect x="749.95" y="413.14" width="0.75" height="9.91" fill="#000000"/>
<rect x="758.73" y="417.90" width="8.02" height="0.75" fill="#000000"/>
<rect x="758.73" y="417.90" width="0.75" height="5.15" fill="#000000"/>
<rect x="766.00" y="417.90" width="0.75" height="2.08" fill="#000000"/>
<rect x="766.75" y="419.24" width="8.02" height="0.75" fill="#000000"/>
<rect x="774.03" y="419.24" width="0.75" height="3.81" fill="#000000"/>
<rect x="806.88" y="418.38" width="8.02" height="0.75" fill="#000000"/>
<rect x="806.88" y="418.38" width="0.75" height="4.67" fill="#000000"/>
<rect x="814.15" y="418.38" width="0.75" height="4.67" fill="#000000"/>
<rect x="847.00" y="406.18" width="8.02" height="0.75" fill="#000013"/>
<rect x="847.00" y="406.18" width="0.75" height="16.87" fill="#000013"/>
<rect x="855.02" y="394.08" width="8.02" height="0.75" fill="#220026"/>
<rect x="855.02" y="394.08" width="0.75" height="12.85" fill="#220026"/>
<rect x="863.05" y="392.46" width="8.02" height="0.75" fill="#2e0025"/>
<rect x="863.05" y="392.46" width="0.75" height="2.37" fill="#2e0025"/>
<rect x="871.07" y="382.64" width="8.02" height="0.75" fill="#6c0016"/>
<rect x="871.07" y="382.64" width="0.75" height="10.57" fill="#6c0016"/>
<rect x="879.10" y="380.07" width="8.02" height="0.75" fill="#7c000f"/>
<rect x="879.10" y="380.07" width="0.75" height="3.32" fill="#7c000f"/>
<rect x="887.12" y="365.77" width="8.02" height="0.75" fill="#cb0000"/>
<rect x="887.12" y="365.77" width="0.75" height="15.05" fill="#cb0000"/>
<rect x="895.14" y="357.77" width="8.02" height="0.75" fill="#ea2a00"/>
<rect x="895.14" y="357.77" width="0.75" height="8.76" fill="#ea2a00"/>
<rect x="902.42" y="357.77" width="0.75" height="7.04" fill="#ea2a00"/>
<rect x="903.17" y="364.06" width="8.02" height="0.75" fill="#d40400"/>
<rect x="910.44" y="364.06" width="0.75" height="3.61" fill="#d40400"/>
<rect x="911.19" y="366.92" width="8.02" height="0.75" fill="#c60000"/>
<rect x="919.22" y="361.96" width="8.02" height="0.75" fill="#dc1000"/>
<rect x="919.22" y="361.96" width="0.75" height="5.71" fill="#dc1000"/>
<rect x="926.49" y="361.96" width="0.75" height="1.99" fill="#dc1000"/>
<rect x="927.24" y="363.20" width="8.02" height="0.75" fill="#d70800"/>
<rect x="935.27" y="359.29" width="8.02" height="0.75" fill="#e52000"/>
<rect x="935.27" y="359.29" width="0.75" height="4.66" fill="#e52000"/>
<rect x="942.54" y="359.29" width="0.75" height="17.33" fill="#e52000"/>
<rect x="943.29" y="375.88" width="8.02" height="0.75" fill="#950002"/>
<rect x="951.32" y="375.88" width="8.02" height="0.75" fill="#950002"/>
<rect x="958.59" y="375.88" width="0.75" height="2.66" fill="#950002"/>
<rect x="959.34" y="377.78" width="8.02" height="0.75" fill="#8a0008"/>
<rect x="966.62" y="377.78" width="0.75" height="20.95" fill="#8a0008"/>
<rect x="967.37" y="397.99" width="8.02" height="0.75" fill="#0a0026"/>
<rect x="974.64" y="397.99" width="0.75" height="17.62" fill="#0a0026"/>
<rect x="975.39" y="414.85" width="8.02" height="0.75" fill="#000000"/>
<rect x="982.66" y="414.85" width="0.75" height="2.08" fill="#000000"/>
<rect x="983.41" y="416.19" width="8.02" height="0.75" fill="#000000"/>
<rect x="991.44" y="416.19" width="8.02" height="0.75" fill="#000000"/>
<rect x="999.46" y="402.37" width="8.02" height="0.75" fill="#000020"/>
<rect x="999.46" y="402.37" width="0.75" height="14.57" fill="#000020"/>
<rect x="1007.49" y="397.99" width="4.01" height="0.75" fill="#0a0026"/>
<rect x="1007.49" y="397.99" width="0.75" height="5.13" fill="#0a0026"/>
</g>
<path d="M691.10 327.75V423.05M771.20 327.75V423.05M851.90 327.75V423.05M931.70 327.75V423.05" stroke="#c4c4c4" stroke-opacity="0.5" stroke-width="1.6" fill="none"/>
<path d="M618.30 399.48H1011.50M618.30 375.65H1011.50M618.30 351.83H1011.50" stroke="#c4c4c4" stroke-opacity="0.5" stroke-width="1.6" fill="none"/>
<path d="M1011.50 399.23h6.6M1011.50 375.40h6.6M1011.50 351.58h6.6" stroke="#000" stroke-width="1.5" fill="none"/>
<rect x="618.30" y="327.75" width="393.20" height="95.30" fill="none" stroke="#000" stroke-width="1.4"/>
<text transform="translate(1026.10,404.38) scale(0.945,1)">25</text>
<text transform="translate(1026.10,380.55) scale(0.945,1)">50</text>
<text transform="translate(1026.10,356.73) scale(0.945,1)">75</text>
</g>
<g>
<rect x="1065.90" y="327.75" width="393.70" height="95.30" fill="#fff"/>
<clipPath id="cp3"><rect x="1065.90" y="327.75" width="393.70" height="95.30"/></clipPath>
<g clip-path="url(#cp3)">
<rect x="1069.32" y="399.61" width="1.2" height="23.44" fill="#741a6e"/>
<rect x="1077.35" y="399.61" width="1.2" height="23.44" fill="#540f6d"/>
<rect x="1085.39" y="398.56" width="1.2" height="24.49" fill="#59106e"/>
<rect x="1093.42" y="397.99" width="1.2" height="25.06" fill="#5c126e"/>
<rect x="1101.46" y="395.51" width="1.2" height="27.54" fill="#7a1d6d"/>
<rect x="1109.49" y="404.09" width="1.2" height="18.96" fill="#65156e"/>
<rect x="1117.53" y="404.09" width="1.2" height="18.96" fill="#400a67"/>
<rect x="1125.56" y="405.90" width="1.2" height="17.15" fill="#69166e"/>
<rect x="1133.59" y="406.56" width="1.2" height="16.49" fill="#390963"/>
<rect x="1141.63" y="406.56" width="1.2" height="16.49" fill="#360961"/>
<rect x="1149.66" y="392.46" width="1.2" height="30.59" fill="#9d2964"/>
<rect x="1157.70" y="392.46" width="1.2" height="30.59" fill="#741a6e"/>
<rect x="1165.73" y="385.88" width="1.2" height="37.17" fill="#9b2964"/>
<rect x="1173.77" y="386.93" width="1.2" height="36.12" fill="#8f2469"/>
<rect x="1181.80" y="388.65" width="1.2" height="34.40" fill="#8c2369"/>
<rect x="1189.84" y="388.65" width="1.2" height="34.40" fill="#84206b"/>
<rect x="1197.87" y="387.88" width="1.2" height="35.17" fill="#87216b"/>
<rect x="1205.91" y="409.61" width="1.2" height="13.44" fill="#932667"/>
<rect x="1213.94" y="417.14" width="1.2" height="5.91" fill="#280b53"/>
<rect x="1221.98" y="417.14" width="1.2" height="5.91" fill="#0a0722"/>
<rect x="1230.01" y="413.04" width="1.2" height="10.01" fill="#180c3c"/>
<rect x="1238.05" y="405.90" width="1.2" height="17.15" fill="#390963"/>
<rect x="1246.08" y="395.51" width="1.2" height="27.54" fill="#65156e"/>
<rect x="1254.12" y="394.84" width="1.2" height="28.21" fill="#771c6d"/>
<rect x="1262.15" y="397.89" width="1.2" height="25.16" fill="#69166e"/>
<rect x="1270.18" y="397.89" width="1.2" height="25.16" fill="#5c126e"/>
<rect x="1278.22" y="402.94" width="1.2" height="20.11" fill="#65156e"/>
<rect x="1286.25" y="402.94" width="1.2" height="20.11" fill="#470b6a"/>
<rect x="1294.29" y="402.66" width="1.2" height="20.39" fill="#4a0c6b"/>
<rect x="1302.32" y="409.61" width="1.2" height="13.44" fill="#470b6a"/>
<rect x="1310.36" y="409.61" width="1.2" height="13.44" fill="#280b53"/>
<rect x="1318.39" y="398.56" width="1.2" height="24.49" fill="#59106e"/>
<rect x="1326.43" y="386.93" width="1.2" height="36.12" fill="#8c2369"/>
<rect x="1334.46" y="392.36" width="1.2" height="30.69" fill="#a32c61"/>
<rect x="1342.50" y="406.94" width="1.2" height="16.11" fill="#741a6e"/>
<rect x="1350.53" y="408.66" width="1.2" height="14.39" fill="#340a5f"/>
<rect x="1374.64" y="406.94" width="1.2" height="16.11" fill="#340a5f"/>
<rect x="1382.67" y="405.13" width="1.2" height="17.92" fill="#5a116e"/>
<rect x="1390.71" y="407.90" width="1.2" height="15.15" fill="#3d0965"/>
<rect x="1398.74" y="407.90" width="1.2" height="15.15" fill="#2f0a5b"/>
<rect x="1406.77" y="404.09" width="1.2" height="18.96" fill="#400a67"/>
<rect x="1414.81" y="401.99" width="1.2" height="21.06" fill="#4a0c6b"/>
<rect x="1422.84" y="390.93" width="1.2" height="32.12" fill="#82206c"/>
<rect x="1430.88" y="397.99" width="1.2" height="25.06" fill="#7a1d6d"/>
<rect x="1438.91" y="409.61" width="1.2" height="13.44" fill="#5c126e"/>
<rect x="1446.95" y="409.61" width="1.2" height="13.44" fill="#280b53"/>
<rect x="1454.98" y="396.84" width="1.2" height="26.21" fill="#69166e"/>
<rect x="1065.90" y="392.36" width="4.02" height="30.69" fill="#741a6e"/>
<rect x="1069.92" y="399.61" width="8.03" height="23.44" fill="#540f6d"/>
<rect x="1077.95" y="398.56" width="8.03" height="24.49" fill="#59106e"/>
<rect x="1085.99" y="397.99" width="8.03" height="25.06" fill="#5c126e"/>
<rect x="1094.02" y="390.93" width="8.03" height="32.12" fill="#7a1d6d"/>
<rect x="1102.06" y="395.51" width="8.03" height="27.54" fill="#65156e"/>
<rect x="1110.09" y="404.09" width="8.03" height="18.96" fill="#400a67"/>
<rect x="1118.13" y="394.84" width="8.03" height="28.21" fill="#69166e"/>
<rect x="1126.16" y="405.90" width="8.03" height="17.15" fill="#390963"/>
<rect x="1134.19" y="406.56" width="8.03" height="16.49" fill="#360961"/>
<rect x="1142.23" y="382.55" width="8.03" height="40.50" fill="#9d2964"/>
<rect x="1150.26" y="392.46" width="8.03" height="30.59" fill="#741a6e"/>
<rect x="1158.30" y="383.12" width="8.03" height="39.93" fill="#9b2964"/>
<rect x="1166.33" y="385.88" width="8.03" height="37.17" fill="#8f2469"/>
<rect x="1174.37" y="386.93" width="8.03" height="36.12" fill="#8c2369"/>
<rect x="1182.40" y="388.65" width="8.03" height="34.40" fill="#84206b"/>
<rect x="1190.44" y="387.88" width="8.03" height="35.17" fill="#87216b"/>
<rect x="1198.47" y="384.83" width="8.03" height="38.22" fill="#932667"/>
<rect x="1206.51" y="409.61" width="8.03" height="13.44" fill="#280b53"/>
<rect x="1214.54" y="417.14" width="8.03" height="5.91" fill="#0a0722"/>
<rect x="1222.58" y="413.04" width="8.03" height="10.01" fill="#180c3c"/>
<rect x="1230.61" y="405.90" width="8.03" height="17.15" fill="#390963"/>
<rect x="1238.65" y="395.51" width="8.03" height="27.54" fill="#65156e"/>
<rect x="1246.68" y="391.60" width="8.03" height="31.45" fill="#771c6d"/>
<rect x="1254.72" y="394.84" width="8.03" height="28.21" fill="#69166e"/>
<rect x="1262.75" y="397.89" width="8.03" height="25.16" fill="#5c126e"/>
<rect x="1270.78" y="395.51" width="8.03" height="27.54" fill="#65156e"/>
<rect x="1278.82" y="402.94" width="8.03" height="20.11" fill="#470b6a"/>
<rect x="1286.85" y="401.99" width="8.03" height="21.06" fill="#4a0c6b"/>
<rect x="1294.89" y="402.66" width="8.03" height="20.39" fill="#470b6a"/>
<rect x="1302.92" y="409.61" width="8.03" height="13.44" fill="#280b53"/>
<rect x="1310.96" y="398.56" width="8.03" height="24.49" fill="#59106e"/>
<rect x="1318.99" y="386.93" width="8.03" height="36.12" fill="#8c2369"/>
<rect x="1327.03" y="381.02" width="8.03" height="42.03" fill="#a32c61"/>
<rect x="1335.06" y="392.36" width="8.03" height="30.69" fill="#741a6e"/>
<rect x="1343.10" y="406.94" width="8.03" height="16.11" fill="#340a5f"/>
<rect x="1351.13" y="408.66" width="8.03" height="14.39" fill="#2b0b57"/>
<rect x="1367.20" y="406.94" width="8.03" height="16.11" fill="#340a5f"/>
<rect x="1375.24" y="398.27" width="8.03" height="24.78" fill="#5a116e"/>
<rect x="1383.27" y="405.13" width="8.03" height="17.92" fill="#3d0965"/>
<rect x="1391.31" y="407.90" width="8.03" height="15.15" fill="#2f0a5b"/>
<rect x="1399.34" y="404.09" width="8.03" height="18.96" fill="#400a67"/>
<rect x="1407.37" y="401.99" width="8.03" height="21.06" fill="#4a0c6b"/>
<rect x="1415.41" y="388.84" width="8.03" height="34.21" fill="#82206c"/>
<rect x="1423.44" y="390.93" width="8.03" height="32.12" fill="#7a1d6d"/>
<rect x="1431.48" y="397.99" width="8.03" height="25.06" fill="#5c126e"/>
<rect x="1439.51" y="409.61" width="8.03" height="13.44" fill="#280b53"/>
<rect x="1447.55" y="394.94" width="8.03" height="28.11" fill="#69166e"/>
<rect x="1455.58" y="396.84" width="4.02" height="26.21" fill="#61136e"/>
<rect x="1065.90" y="392.36" width="4.02" height="0.75" fill="#2e0025"/>
<rect x="1069.17" y="392.36" width="0.75" height="7.99" fill="#2e0025"/>
<rect x="1069.92" y="399.61" width="8.03" height="0.75" fill="#000024"/>
<rect x="1077.95" y="398.56" width="8.03" height="0.75" fill="#060025"/>
<rect x="1077.95" y="398.56" width="0.75" height="1.80" fill="#060025"/>
<rect x="1085.99" y="397.99" width="8.03" height="0.75" fill="#0a0026"/>
<rect x="1085.99" y="397.99" width="0.75" height="1.32" fill="#0a0026"/>
<rect x="1094.02" y="390.93" width="8.03" height="0.75" fill="#380024"/>
<rect x="1094.02" y="390.93" width="0.75" height="7.80" fill="#380024"/>
<rect x="1101.31" y="390.93" width="0.75" height="5.32" fill="#380024"/>
<rect x="1102.06" y="395.51" width="8.03" height="0.75" fill="#190026"/>
<rect x="1109.34" y="395.51" width="0.75" height="9.33" fill="#190026"/>
<rect x="1110.09" y="404.09" width="8.03" height="0.75" fill="#00001b"/>
<rect x="1118.13" y="394.84" width="8.03" height="0.75" fill="#1d0026"/>
<rect x="1118.13" y="394.84" width="0.75" height="9.99" fill="#1d0026"/>
<rect x="1125.41" y="394.84" width="0.75" height="11.80" fill="#1d0026"/>
<rect x="1126.16" y="405.90" width="8.03" height="0.75" fill="#000015"/>
<rect x="1133.44" y="405.90" width="0.75" height="1.42" fill="#000015"/>
<rect x="1134.19" y="406.56" width="8.03" height="0.75" fill="#000011"/>
<rect x="1142.23" y="382.55" width="8.03" height="0.75" fill="#6c0016"/>
<rect x="1142.23" y="382.55" width="0.75" height="24.77" fill="#6c0016"/>
<rect x="1149.51" y="382.55" width="0.75" height="10.66" fill="#6c0016"/>
<rect x="1150.26" y="392.46" width="8.03" height="0.75" fill="#2e0025"/>
<rect x="1158.30" y="383.12" width="8.03" height="0.75" fill="#6a0017"/>
<rect x="1158.30" y="383.12" width="0.75" height="10.09" fill="#6a0017"/>
<rect x="1165.58" y="383.12" width="0.75" height="3.51" fill="#6a0017"/>
<rect x="1166.33" y="385.88" width="8.03" height="0.75" fill="#57001d"/>
<rect x="1173.62" y="385.88" width="0.75" height="1.80" fill="#57001d"/>
<rect x="1174.37" y="386.93" width="8.03" height="0.75" fill="#52001f"/>
<rect x="1181.65" y="386.93" width="0.75" height="2.47" fill="#52001f"/>
<rect x="1182.40" y="388.65" width="8.03" height="0.75" fill="#460021"/>
<rect x="1190.44" y="387.88" width="8.03" height="0.75" fill="#4b0020"/>
<rect x="1190.44" y="387.88" width="0.75" height="1.51" fill="#4b0020"/>
<rect x="1198.47" y="384.83" width="8.03" height="0.75" fill="#5e001b"/>
<rect x="1198.47" y="384.83" width="0.75" height="3.80" fill="#5e001b"/>
<rect x="1205.76" y="384.83" width="0.75" height="25.53" fill="#5e001b"/>
<rect x="1206.51" y="409.61" width="8.03" height="0.75" fill="#000000"/>
<rect x="1213.79" y="409.61" width="0.75" height="8.28" fill="#000000"/>
<rect x="1214.54" y="417.14" width="8.03" height="0.75" fill="#000000"/>
<rect x="1222.58" y="413.04" width="8.03" height="0.75" fill="#000000"/>
<rect x="1222.58" y="413.04" width="0.75" height="4.85" fill="#000000"/>
<rect x="1230.61" y="405.90" width="8.03" height="0.75" fill="#000015"/>
<rect x="1230.61" y="405.90" width="0.75" height="7.90" fill="#000015"/>
<rect x="1238.65" y="395.51" width="8.03" height="0.75" fill="#190026"/>
<rect x="1238.65" y="395.51" width="0.75" height="11.14" fill="#190026"/>
<rect x="1246.68" y="391.60" width="8.03" height="0.75" fill="#330025"/>
<rect x="1246.68" y="391.60" width="0.75" height="4.66" fill="#330025"/>
<rect x="1253.97" y="391.60" width="0.75" height="3.99" fill="#330025"/>
<rect x="1254.72" y="394.84" width="8.03" height="0.75" fill="#1d0026"/>
<rect x="1262.00" y="394.84" width="0.75" height="3.80" fill="#1d0026"/>
<rect x="1262.75" y="397.89" width="8.03" height="0.75" fill="#0a0026"/>
<rect x="1270.78" y="395.51" width="8.03" height="0.75" fill="#190026"/>
<rect x="1270.78" y="395.51" width="0.75" height="3.13" fill="#190026"/>
<rect x="1278.07" y="395.51" width="0.75" height="8.18" fill="#190026"/>
<rect x="1278.82" y="402.94" width="8.03" height="0.75" fill="#00001f"/>
<rect x="1286.85" y="401.99" width="8.03" height="0.75" fill="#000021"/>
<rect x="1286.85" y="401.99" width="0.75" height="1.70" fill="#000021"/>
<rect x="1294.14" y="401.99" width="0.75" height="1.42" fill="#000021"/>
<rect x="1294.89" y="402.66" width="8.03" height="0.75" fill="#00001f"/>
<rect x="1302.17" y="402.66" width="0.75" height="7.71" fill="#00001f"/>
<rect x="1302.92" y="409.61" width="8.03" height="0.75" fill="#000000"/>
<rect x="1310.96" y="398.56" width="8.03" height="0.75" fill="#060025"/>
<rect x="1310.96" y="398.56" width="0.75" height="11.80" fill="#060025"/>
<rect x="1318.99" y="386.93" width="8.03" height="0.75" fill="#52001f"/>
<rect x="1318.99" y="386.93" width="0.75" height="12.38" fill="#52001f"/>
<rect x="1327.03" y="381.02" width="8.03" height="0.75" fill="#750012"/>
<rect x="1327.03" y="381.02" width="0.75" height="6.66" fill="#750012"/>
<rect x="1334.31" y="381.02" width="0.75" height="12.09" fill="#750012"/>
<rect x="1335.06" y="392.36" width="8.03" height="0.75" fill="#2e0025"/>
<rect x="1342.35" y="392.36" width="0.75" height="15.33" fill="#2e0025"/>
<rect x="1343.10" y="406.94" width="8.03" height="0.75" fill="#00000f"/>
<rect x="1350.38" y="406.94" width="0.75" height="2.47" fill="#00000f"/>
<rect x="1351.13" y="408.66" width="8.03" height="0.75" fill="#000003"/>
<rect x="1358.42" y="408.66" width="0.75" height="14.39" fill="#000003"/>
<rect x="1367.20" y="406.94" width="8.03" height="0.75" fill="#00000f"/>
<rect x="1367.20" y="406.94" width="0.75" height="16.11" fill="#00000f"/>
<rect x="1375.24" y="398.27" width="8.03" height="0.75" fill="#080025"/>
<rect x="1375.24" y="398.27" width="0.75" height="9.42" fill="#080025"/>
<rect x="1382.52" y="398.27" width="0.75" height="7.61" fill="#080025"/>
<rect x="1383.27" y="405.13" width="8.03" height="0.75" fill="#000018"/>
<rect x="1390.56" y="405.13" width="0.75" height="3.51" fill="#000018"/>
<rect x="1391.31" y="407.90" width="8.03" height="0.75" fill="#000008"/>
<rect x="1399.34" y="404.09" width="8.03" height="0.75" fill="#00001b"/>
<rect x="1399.34" y="404.09" width="0.75" height="4.56" fill="#00001b"/>
<rect x="1407.37" y="401.99" width="8.03" height="0.75" fill="#000021"/>
<rect x="1407.37" y="401.99" width="0.75" height="2.85" fill="#000021"/>
<rect x="1415.41" y="388.84" width="8.03" height="0.75" fill="#430022"/>
<rect x="1415.41" y="388.84" width="0.75" height="13.90" fill="#430022"/>
<rect x="1422.69" y="388.84" width="0.75" height="2.85" fill="#430022"/>
<rect x="1423.44" y="390.93" width="8.03" height="0.75" fill="#380024"/>
<rect x="1430.73" y="390.93" width="0.75" height="7.80" fill="#380024"/>
<rect x="1431.48" y="397.99" width="8.03" height="0.75" fill="#0a0026"/>
<rect x="1438.76" y="397.99" width="0.75" height="12.38" fill="#0a0026"/>
<rect x="1439.51" y="409.61" width="8.03" height="0.75" fill="#000000"/>
<rect x="1447.55" y="394.94" width="8.03" height="0.75" fill="#1d0026"/>
<rect x="1447.55" y="394.94" width="0.75" height="15.43" fill="#1d0026"/>
<rect x="1454.83" y="394.94" width="0.75" height="2.66" fill="#1d0026"/>
<rect x="1455.58" y="396.84" width="4.02" height="0.75" fill="#110026"/>
</g>
<path d="M1138.70 327.75V423.05M1218.80 327.75V423.05M1299.50 327.75V423.05M1379.30 327.75V423.05" stroke="#c4c4c4" stroke-opacity="0.5" stroke-width="1.6" fill="none"/>
<path d="M1065.90 399.48H1459.60M1065.90 375.65H1459.60M1065.90 351.83H1459.60" stroke="#c4c4c4" stroke-opacity="0.5" stroke-width="1.6" fill="none"/>
<path d="M1459.60 399.23h6.6M1459.60 375.40h6.6M1459.60 351.58h6.6" stroke="#000" stroke-width="1.5" fill="none"/>
<rect x="1065.90" y="327.75" width="393.70" height="95.30" fill="none" stroke="#000" stroke-width="1.4"/>
<text transform="translate(1474.20,404.38) scale(0.945,1)">25</text>
<text transform="translate(1474.20,380.55) scale(0.945,1)">50</text>
<text transform="translate(1474.20,356.73) scale(0.945,1)">75</text>
</g>
<g>
<rect x="618.30" y="444.90" width="393.20" height="95.30" fill="#fff"/>
<clipPath id="cp4"><rect x="618.30" y="444.90" width="393.20" height="95.30"/></clipPath>
<g clip-path="url(#cp4)">
<rect x="621.71" y="466.25" width="1.2" height="73.95" fill="#fb9906"/>
<rect x="629.74" y="459.39" width="1.2" height="80.81" fill="#fbbe23"/>
<rect x="637.76" y="455.67" width="1.2" height="84.53" fill="#f3e55d"/>
<rect x="645.79" y="455.67" width="1.2" height="84.53" fill="#f7d13d"/>
<rect x="653.81" y="444.90" width="1.2" height="95.30" fill="#fcffa4"/>
<rect x="661.83" y="449.19" width="1.2" height="91.01" fill="#fcffa4"/>
<rect x="669.86" y="449.19" width="1.2" height="91.01" fill="#f1f179"/>
<rect x="677.88" y="444.90" width="1.2" height="95.30" fill="#fcffa4"/>
<rect x="685.91" y="453.38" width="1.2" height="86.82" fill="#fcffa4"/>
<rect x="693.93" y="453.38" width="1.2" height="86.82" fill="#f4dd4f"/>
<rect x="701.96" y="447.00" width="1.2" height="93.20" fill="#fcffa4"/>
<rect x="709.98" y="448.33" width="1.2" height="91.87" fill="#f5f992"/>
<rect x="718.01" y="455.00" width="1.2" height="85.20" fill="#f2f482"/>
<rect x="726.03" y="455.00" width="1.2" height="85.20" fill="#f7d340"/>
<rect x="734.06" y="446.14" width="1.2" height="94.06" fill="#f8fb9a"/>
<rect x="742.08" y="464.06" width="1.2" height="76.14" fill="#fafda1"/>
<rect x="750.10" y="464.91" width="1.2" height="75.29" fill="#fca50a"/>
<rect x="758.13" y="464.91" width="1.2" height="75.29" fill="#fca108"/>
<rect x="766.15" y="463.29" width="1.2" height="76.91" fill="#fca80d"/>
<rect x="774.18" y="458.05" width="1.2" height="82.15" fill="#fac42a"/>
<rect x="782.20" y="446.33" width="1.2" height="93.87" fill="#fcffa4"/>
<rect x="790.23" y="458.72" width="1.2" height="81.48" fill="#f8fb9a"/>
<rect x="798.25" y="476.44" width="1.2" height="63.76" fill="#fac026"/>
<rect x="806.28" y="476.44" width="1.2" height="63.76" fill="#ee6a24"/>
<rect x="814.30" y="479.40" width="1.2" height="60.80" fill="#ef6e21"/>
<rect x="822.32" y="490.36" width="1.2" height="49.84" fill="#e75e2e"/>
<rect x="830.35" y="490.36" width="1.2" height="49.84" fill="#c33b4f"/>
<rect x="838.37" y="458.05" width="1.2" height="82.15" fill="#fac42a"/>
<rect x="846.40" y="452.52" width="1.2" height="87.68" fill="#f4e156"/>
<rect x="854.42" y="458.05" width="1.2" height="82.15" fill="#fcffa4"/>
<rect x="862.45" y="465.01" width="1.2" height="75.19" fill="#fac42a"/>
<rect x="870.47" y="469.01" width="1.2" height="71.19" fill="#fc9f07"/>
<rect x="878.50" y="469.01" width="1.2" height="71.19" fill="#f98c0a"/>
<rect x="886.52" y="448.14" width="1.2" height="92.06" fill="#f3f586"/>
<rect x="894.54" y="444.90" width="1.2" height="95.30" fill="#fcffa4"/>
<rect x="902.57" y="444.90" width="1.2" height="95.30" fill="#fcffa4"/>
<rect x="910.59" y="455.00" width="1.2" height="85.20" fill="#fcffa4"/>
<rect x="918.62" y="457.29" width="1.2" height="82.91" fill="#f7d340"/>
<rect x="926.64" y="459.39" width="1.2" height="80.81" fill="#f9c72f"/>
<rect x="934.67" y="459.39" width="1.2" height="80.81" fill="#fbbe23"/>
<rect x="942.69" y="458.05" width="1.2" height="82.15" fill="#f7d13d"/>
<rect x="950.72" y="458.05" width="1.2" height="82.15" fill="#fac42a"/>
<rect x="958.74" y="448.14" width="1.2" height="92.06" fill="#f3f586"/>
<rect x="966.77" y="453.38" width="1.2" height="86.82" fill="#f9fc9d"/>
<rect x="974.79" y="453.38" width="1.2" height="86.82" fill="#f4dd4f"/>
<rect x="982.81" y="444.90" width="1.2" height="95.30" fill="#fcffa4"/>
<rect x="990.84" y="444.90" width="1.2" height="95.30" fill="#fcffa4"/>
<rect x="998.86" y="455.57" width="1.2" height="84.63" fill="#fcffa4"/>
<rect x="1006.89" y="461.86" width="1.2" height="78.34" fill="#f7d13d"/>
<rect x="618.30" y="466.25" width="4.01" height="73.95" fill="#fb9906"/>
<rect x="622.31" y="459.39" width="8.02" height="80.81" fill="#fbbe23"/>
<rect x="630.34" y="451.86" width="8.02" height="88.34" fill="#f3e55d"/>
<rect x="638.36" y="455.67" width="8.02" height="84.53" fill="#f7d13d"/>
<rect x="646.39" y="444.90" width="8.02" height="95.30" fill="#fcffa4"/>
<rect x="654.41" y="444.90" width="8.02" height="95.30" fill="#fcffa4"/>
<rect x="662.43" y="449.19" width="8.02" height="91.01" fill="#f1f179"/>
<rect x="670.46" y="444.90" width="8.02" height="95.30" fill="#fcffa4"/>
<rect x="678.48" y="444.90" width="8.02" height="95.30" fill="#fcffa4"/>
<rect x="686.51" y="453.38" width="8.02" height="86.82" fill="#f4dd4f"/>
<rect x="694.53" y="444.90" width="8.02" height="95.30" fill="#fcffa4"/>
<rect x="702.56" y="447.00" width="8.02" height="93.20" fill="#f5f992"/>
<rect x="710.58" y="448.33" width="8.02" height="91.87" fill="#f2f482"/>
<rect x="718.61" y="455.00" width="8.02" height="85.20" fill="#f7d340"/>
<rect x="726.63" y="446.14" width="8.02" height="94.06" fill="#f8fb9a"/>
<rect x="734.66" y="445.38" width="8.02" height="94.82" fill="#fafda1"/>
<rect x="742.68" y="464.06" width="8.02" height="76.14" fill="#fca50a"/>
<rect x="750.70" y="464.91" width="8.02" height="75.29" fill="#fca108"/>
<rect x="758.73" y="463.29" width="8.02" height="76.91" fill="#fca80d"/>
<rect x="766.75" y="458.05" width="8.02" height="82.15" fill="#fac42a"/>
<rect x="774.78" y="444.90" width="8.02" height="95.30" fill="#fcffa4"/>
<rect x="782.80" y="446.33" width="8.02" height="93.87" fill="#f8fb9a"/>
<rect x="790.83" y="458.72" width="8.02" height="81.48" fill="#fac026"/>
<rect x="798.85" y="476.44" width="8.02" height="63.76" fill="#ee6a24"/>
<rect x="806.88" y="475.68" width="8.02" height="64.52" fill="#ef6e21"/>
<rect x="814.90" y="479.40" width="8.02" height="60.80" fill="#e75e2e"/>
<rect x="822.92" y="490.36" width="8.02" height="49.84" fill="#c33b4f"/>
<rect x="830.95" y="458.05" width="8.02" height="82.15" fill="#fac42a"/>
<rect x="838.97" y="452.52" width="8.02" height="87.68" fill="#f4e156"/>
<rect x="847.00" y="444.90" width="8.02" height="95.30" fill="#fcffa4"/>
<rect x="855.02" y="458.05" width="8.02" height="82.15" fill="#fac42a"/>
<rect x="863.05" y="465.01" width="8.02" height="75.19" fill="#fc9f07"/>
<rect x="871.07" y="469.01" width="8.02" height="71.19" fill="#f98c0a"/>
<rect x="879.10" y="448.14" width="8.02" height="92.06" fill="#f3f586"/>
<rect x="887.12" y="444.90" width="8.02" height="95.30" fill="#fcffa4"/>
<rect x="895.14" y="444.90" width="8.02" height="95.30" fill="#fcffa4"/>
<rect x="903.17" y="444.90" width="8.02" height="95.30" fill="#fcffa4"/>
<rect x="911.19" y="455.00" width="8.02" height="85.20" fill="#f7d340"/>
<rect x="919.22" y="457.29" width="8.02" height="82.91" fill="#f9c72f"/>
<rect x="927.24" y="459.39" width="8.02" height="80.81" fill="#fbbe23"/>
<rect x="935.27" y="455.67" width="8.02" height="84.53" fill="#f7d13d"/>
<rect x="943.29" y="458.05" width="8.02" height="82.15" fill="#fac42a"/>
<rect x="951.32" y="448.14" width="8.02" height="92.06" fill="#f3f586"/>
<rect x="959.34" y="445.66" width="8.02" height="94.54" fill="#f9fc9d"/>
<rect x="967.37" y="453.38" width="8.02" height="86.82" fill="#f4dd4f"/>
<rect x="975.39" y="444.90" width="8.02" height="95.30" fill="#fcffa4"/>
<rect x="983.41" y="444.90" width="8.02" height="95.30" fill="#fcffa4"/>
<rect x="991.44" y="444.90" width="8.02" height="95.30" fill="#fcffa4"/>
<rect x="999.46" y="455.57" width="8.02" height="84.63" fill="#f7d13d"/>
<rect x="1007.49" y="461.86" width="4.01" height="78.34" fill="#fcb014"/>
<rect x="618.30" y="466.25" width="4.01" height="0.75" fill="#f96600"/>
<rect x="622.31" y="459.39" width="8.02" height="0.75" fill="#f99d00"/>
<rect x="622.31" y="459.39" width="0.75" height="7.61" fill="#f99d00"/>
<rect x="630.34" y="451.86" width="8.02" height="0.75" fill="#ecd70c"/>
<rect x="630.34" y="451.86" width="0.75" height="8.28" fill="#ecd70c"/>
<rect x="637.61" y="451.86" width="0.75" height="4.56" fill="#ecd70c"/>
<rect x="638.36" y="455.67" width="8.02" height="0.75" fill="#f3ba00"/>
<rect x="646.39" y="444.90" width="0.75" height="11.52" fill="#fbfe77"/>
<rect x="661.68" y="444.90" width="0.75" height="5.04" fill="#fbfe77"/>
<rect x="662.43" y="449.19" width="8.02" height="0.75" fill="#ebe936"/>
<rect x="670.46" y="444.90" width="0.75" height="5.04" fill="#fbfe77"/>
<rect x="685.76" y="444.90" width="0.75" height="9.23" fill="#fbfe77"/>
<rect x="686.51" y="453.38" width="8.02" height="0.75" fill="#efcc00"/>
<rect x="694.53" y="444.90" width="0.75" height="9.23" fill="#fbfe77"/>
<rect x="701.81" y="444.90" width="0.75" height="2.85" fill="#fbfe77"/>
<rect x="702.56" y="447.00" width="8.02" height="0.75" fill="#f0f65b"/>
<rect x="709.83" y="447.00" width="0.75" height="2.08" fill="#f0f65b"/>
<rect x="710.58" y="448.33" width="8.02" height="0.75" fill="#ecee43"/>
<rect x="717.86" y="448.33" width="0.75" height="7.42" fill="#ecee43"/>
<rect x="718.61" y="455.00" width="8.02" height="0.75" fill="#f3bd00"/>
<rect x="726.63" y="446.14" width="8.02" height="0.75" fill="#f4f967"/>
<rect x="726.63" y="446.14" width="0.75" height="9.61" fill="#f4f967"/>
<rect x="734.66" y="445.38" width="8.02" height="0.75" fill="#f8fd72"/>
<rect x="734.66" y="445.38" width="0.75" height="1.51" fill="#f8fd72"/>
<rect x="741.93" y="445.38" width="0.75" height="19.43" fill="#f8fd72"/>
<rect x="742.68" y="464.06" width="8.02" height="0.75" fill="#fa7700"/>
<rect x="749.95" y="464.06" width="0.75" height="1.61" fill="#fa7700"/>
<rect x="750.70" y="464.91" width="8.02" height="0.75" fill="#fa7200"/>
<rect x="758.73" y="463.29" width="8.02" height="0.75" fill="#fa7d00"/>
<rect x="758.73" y="463.29" width="0.75" height="2.37" fill="#fa7d00"/>
<rect x="766.75" y="458.05" width="8.02" height="0.75" fill="#f7a600"/>
<rect x="766.75" y="458.05" width="0.75" height="5.99" fill="#f7a600"/>
<rect x="774.78" y="444.90" width="0.75" height="13.90" fill="#fbfe77"/>
<rect x="782.05" y="444.90" width="0.75" height="2.18" fill="#fbfe77"/>
<rect x="782.80" y="446.33" width="8.02" height="0.75" fill="#f4f967"/>
<rect x="790.08" y="446.33" width="0.75" height="13.14" fill="#f4f967"/>
<rect x="790.83" y="458.72" width="8.02" height="0.75" fill="#f8a000"/>
<rect x="798.10" y="458.72" width="0.75" height="18.48" fill="#f8a000"/>
<rect x="798.85" y="476.44" width="8.02" height="0.75" fill="#e52000"/>
<rect x="806.88" y="475.68" width="8.02" height="0.75" fill="#e82500"/>
<rect x="806.88" y="475.68" width="0.75" height="1.51" fill="#e82500"/>
<rect x="814.15" y="475.68" width="0.75" height="4.47" fill="#e82500"/>
<rect x="814.90" y="479.40" width="8.02" height="0.75" fill="#db0e00"/>
<rect x="822.17" y="479.40" width="0.75" height="11.71" fill="#db0e00"/>
<rect x="822.92" y="490.36" width="8.02" height="0.75" fill="#a50000"/>
<rect x="830.95" y="458.05" width="8.02" height="0.75" fill="#f7a600"/>
<rect x="830.95" y="458.05" width="0.75" height="33.06" fill="#f7a600"/>
<rect x="838.97" y="452.52" width="8.02" height="0.75" fill="#eed202"/>
<rect x="838.97" y="452.52" width="0.75" height="6.28" fill="#eed202"/>
<rect x="847.00" y="444.90" width="0.75" height="8.37" fill="#fbfe77"/>
<rect x="854.27" y="444.90" width="0.75" height="13.90" fill="#fbfe77"/>
<rect x="855.02" y="458.05" width="8.02" height="0.75" fill="#f7a600"/>
<rect x="862.30" y="458.05" width="0.75" height="7.71" fill="#f7a600"/>
<rect x="863.05" y="465.01" width="8.02" height="0.75" fill="#fa6f00"/>
<rect x="870.32" y="465.01" width="0.75" height="4.75" fill="#fa6f00"/>
<rect x="871.07" y="469.01" width="8.02" height="0.75" fill="#f65300"/>
<rect x="879.10" y="448.14" width="8.02" height="0.75" fill="#edf049"/>
<rect x="879.10" y="448.14" width="0.75" height="21.62" fill="#edf049"/>
<rect x="887.12" y="444.90" width="0.75" height="3.99" fill="#fbfe77"/>
<rect x="910.44" y="444.90" width="0.75" height="10.85" fill="#fbfe77"/>
<rect x="911.19" y="455.00" width="8.02" height="0.75" fill="#f3bd00"/>
<rect x="918.47" y="455.00" width="0.75" height="3.04" fill="#f3bd00"/>
<rect x="919.22" y="457.29" width="8.02" height="0.75" fill="#f6ac00"/>
<rect x="926.49" y="457.29" width="0.75" height="2.85" fill="#f6ac00"/>
<rect x="927.24" y="459.39" width="8.02" height="0.75" fill="#f99d00"/>
<rect x="935.27" y="455.67" width="8.02" height="0.75" fill="#f3ba00"/>
<rect x="935.27" y="455.67" width="0.75" height="4.47" fill="#f3ba00"/>
<rect x="942.54" y="455.67" width="0.75" height="3.13" fill="#f3ba00"/>
<rect x="943.29" y="458.05" width="8.02" height="0.75" fill="#f7a600"/>
<rect x="951.32" y="448.14" width="8.02" height="0.75" fill="#edf049"/>
<rect x="951.32" y="448.14" width="0.75" height="10.66" fill="#edf049"/>
<rect x="959.34" y="445.66" width="8.02" height="0.75" fill="#f6fb6c"/>
<rect x="959.34" y="445.66" width="0.75" height="3.23" fill="#f6fb6c"/>
<rect x="966.62" y="445.66" width="0.75" height="8.47" fill="#f6fb6c"/>
<rect x="967.37" y="453.38" width="8.02" height="0.75" fill="#efcc00"/>
<rect x="975.39" y="444.90" width="0.75" height="9.23" fill="#fbfe77"/>
<rect x="998.71" y="444.90" width="0.75" height="11.42" fill="#fbfe77"/>
<rect x="999.46" y="455.57" width="8.02" height="0.75" fill="#f3ba00"/>
<rect x="1006.74" y="455.57" width="0.75" height="7.04" fill="#f3ba00"/>
<rect x="1007.49" y="461.86" width="4.01" height="0.75" fill="#fa8900"/>
</g>
<path d="M691.10 444.90V540.20M771.20 444.90V540.20M851.90 444.90V540.20M931.70 444.90V540.20" stroke="#c4c4c4" stroke-opacity="0.5" stroke-width="1.6" fill="none"/>
<path d="M618.30 516.62H1011.50M618.30 492.80H1011.50M618.30 468.97H1011.50" stroke="#c4c4c4" stroke-opacity="0.5" stroke-width="1.6" fill="none"/>
<path d="M1011.50 516.37h6.6M1011.50 492.55h6.6M1011.50 468.72h6.6" stroke="#000" stroke-width="1.5" fill="none"/>
<rect x="618.30" y="444.90" width="393.20" height="95.30" fill="none" stroke="#000" stroke-width="1.4"/>
<text transform="translate(1026.10,521.52) scale(0.945,1)">25</text>
<text transform="translate(1026.10,497.70) scale(0.945,1)">50</text>
<text transform="translate(1026.10,473.87) scale(0.945,1)">75</text>
</g>
<g>
<rect x="1065.90" y="444.90" width="393.70" height="95.30" fill="#fff"/>
<clipPath id="cp5"><rect x="1065.90" y="444.90" width="393.70" height="95.30"/></clipPath>
<g clip-path="url(#cp5)">
<rect x="1069.32" y="491.22" width="1.2" height="48.98" fill="#c03a51"/>
<rect x="1077.35" y="485.31" width="1.2" height="54.89" fill="#de5238"/>
<rect x="1085.39" y="485.31" width="1.2" height="54.89" fill="#d54a41"/>
<rect x="1093.42" y="491.79" width="1.2" height="48.41" fill="#db503b"/>
<rect x="1101.46" y="491.79" width="1.2" height="48.41" fill="#bf3952"/>
<rect x="1109.49" y="486.36" width="1.2" height="53.84" fill="#d24644"/>
<rect x="1117.53" y="487.31" width="1.2" height="52.89" fill="#d74b3f"/>
<rect x="1125.56" y="487.31" width="1.2" height="52.89" fill="#cf4446"/>
<rect x="1133.59" y="464.34" width="1.2" height="75.86" fill="#fca309"/>
<rect x="1141.63" y="457.48" width="1.2" height="82.72" fill="#f9c72f"/>
<rect x="1149.66" y="464.34" width="1.2" height="75.86" fill="#f1ef75"/>
<rect x="1157.70" y="475.68" width="1.2" height="64.52" fill="#fca309"/>
<rect x="1165.73" y="475.68" width="1.2" height="64.52" fill="#ef6e21"/>
<rect x="1173.77" y="476.35" width="1.2" height="63.85" fill="#f1711f"/>
<rect x="1181.80" y="485.59" width="1.2" height="54.61" fill="#ee6a24"/>
<rect x="1189.84" y="485.59" width="1.2" height="54.61" fill="#d44842"/>
<rect x="1197.87" y="512.37" width="1.2" height="27.83" fill="#db503b"/>
<rect x="1205.91" y="514.85" width="1.2" height="25.35" fill="#67166e"/>
<rect x="1238.05" y="520.38" width="1.2" height="19.82" fill="#450a69"/>
<rect x="1246.08" y="516.66" width="1.2" height="23.54" fill="#550f6d"/>
<rect x="1254.12" y="516.95" width="1.2" height="23.25" fill="#922568"/>
<rect x="1262.15" y="516.95" width="1.2" height="23.25" fill="#540f6d"/>
<rect x="1270.18" y="518.38" width="1.2" height="21.82" fill="#67166e"/>
<rect x="1278.22" y="532.39" width="1.2" height="7.81" fill="#4d0d6c"/>
<rect x="1302.32" y="522.47" width="1.2" height="17.73" fill="#420a68"/>
<rect x="1310.36" y="522.47" width="1.2" height="17.73" fill="#3b0964"/>
<rect x="1318.39" y="519.33" width="1.2" height="20.87" fill="#4a0c6b"/>
<rect x="1326.43" y="518.57" width="1.2" height="21.63" fill="#5a116e"/>
<rect x="1334.46" y="522.47" width="1.2" height="17.73" fill="#4d0d6c"/>
<rect x="1342.50" y="522.47" width="1.2" height="17.73" fill="#3b0964"/>
<rect x="1350.53" y="521.33" width="1.2" height="18.87" fill="#540f6d"/>
<rect x="1358.57" y="521.33" width="1.2" height="18.87" fill="#400a67"/>
<rect x="1366.60" y="511.13" width="1.2" height="29.07" fill="#6d186e"/>
<rect x="1374.64" y="498.08" width="1.2" height="42.12" fill="#a52c60"/>
<rect x="1382.67" y="493.12" width="1.2" height="47.08" fill="#c73e4c"/>
<rect x="1390.71" y="493.12" width="1.2" height="47.08" fill="#b93556"/>
<rect x="1398.74" y="508.66" width="1.2" height="31.54" fill="#c03a51"/>
<rect x="1406.77" y="519.33" width="1.2" height="20.87" fill="#771c6d"/>
<rect x="1414.81" y="519.33" width="1.2" height="20.87" fill="#4a0c6b"/>
<rect x="1422.84" y="519.33" width="1.2" height="20.87" fill="#4a0c6b"/>
<rect x="1430.88" y="514.47" width="1.2" height="25.73" fill="#801f6c"/>
<rect x="1438.91" y="514.47" width="1.2" height="25.73" fill="#5f136e"/>
<rect x="1446.95" y="525.24" width="1.2" height="14.96" fill="#71196e"/>
<rect x="1454.98" y="528.67" width="1.2" height="11.53" fill="#2f0a5b"/>
<rect x="1065.90" y="491.22" width="4.02" height="48.98" fill="#c03a51"/>
<rect x="1069.92" y="482.54" width="8.03" height="57.66" fill="#de5238"/>
<rect x="1077.95" y="485.31" width="8.03" height="54.89" fill="#d54a41"/>
<rect x="1085.99" y="483.40" width="8.03" height="56.80" fill="#db503b"/>
<rect x="1094.02" y="491.79" width="8.03" height="48.41" fill="#bf3952"/>
<rect x="1102.06" y="486.36" width="8.03" height="53.84" fill="#d24644"/>
<rect x="1110.09" y="485.02" width="8.03" height="55.18" fill="#d74b3f"/>
<rect x="1118.13" y="487.31" width="8.03" height="52.89" fill="#cf4446"/>
<rect x="1126.16" y="464.34" width="8.03" height="75.86" fill="#fca309"/>
<rect x="1134.19" y="457.48" width="8.03" height="82.72" fill="#f9c72f"/>
<rect x="1142.23" y="449.47" width="8.03" height="90.73" fill="#f1ef75"/>
<rect x="1150.26" y="464.34" width="8.03" height="75.86" fill="#fca309"/>
<rect x="1158.30" y="475.68" width="8.03" height="64.52" fill="#ef6e21"/>
<rect x="1166.33" y="474.92" width="8.03" height="65.28" fill="#f1711f"/>
<rect x="1174.37" y="476.35" width="8.03" height="63.85" fill="#ee6a24"/>
<rect x="1182.40" y="485.59" width="8.03" height="54.61" fill="#d44842"/>
<rect x="1190.44" y="483.40" width="8.03" height="56.80" fill="#db503b"/>
<rect x="1198.47" y="512.37" width="8.03" height="27.83" fill="#67166e"/>
<rect x="1206.51" y="514.85" width="8.03" height="25.35" fill="#5d126e"/>
<rect x="1230.61" y="520.38" width="8.03" height="19.82" fill="#450a69"/>
<rect x="1238.65" y="516.66" width="8.03" height="23.54" fill="#550f6d"/>
<rect x="1246.68" y="502.46" width="8.03" height="37.74" fill="#922568"/>
<rect x="1254.72" y="516.95" width="8.03" height="23.25" fill="#540f6d"/>
<rect x="1262.75" y="512.37" width="8.03" height="27.83" fill="#67166e"/>
<rect x="1270.78" y="518.38" width="8.03" height="21.82" fill="#4d0d6c"/>
<rect x="1278.82" y="532.39" width="8.03" height="7.81" fill="#10092d"/>
<rect x="1294.89" y="521.04" width="8.03" height="19.16" fill="#420a68"/>
<rect x="1302.92" y="522.47" width="8.03" height="17.73" fill="#3b0964"/>
<rect x="1310.96" y="519.33" width="8.03" height="20.87" fill="#4a0c6b"/>
<rect x="1318.99" y="515.61" width="8.03" height="24.59" fill="#5a116e"/>
<rect x="1327.03" y="518.57" width="8.03" height="21.63" fill="#4d0d6c"/>
<rect x="1335.06" y="522.47" width="8.03" height="17.73" fill="#3b0964"/>
<rect x="1343.10" y="516.95" width="8.03" height="23.25" fill="#540f6d"/>
<rect x="1351.13" y="521.33" width="8.03" height="18.87" fill="#400a67"/>
<rect x="1359.17" y="511.13" width="8.03" height="29.07" fill="#6d186e"/>
<rect x="1367.20" y="498.08" width="8.03" height="42.12" fill="#a52c60"/>
<rect x="1375.24" y="489.41" width="8.03" height="50.79" fill="#c73e4c"/>
<rect x="1383.27" y="493.12" width="8.03" height="47.08" fill="#b93556"/>
<rect x="1391.31" y="491.22" width="8.03" height="48.98" fill="#c03a51"/>
<rect x="1399.34" y="508.66" width="8.03" height="31.54" fill="#771c6d"/>
<rect x="1407.37" y="519.33" width="8.03" height="20.87" fill="#4a0c6b"/>
<rect x="1415.41" y="519.33" width="8.03" height="20.87" fill="#4a0c6b"/>
<rect x="1423.44" y="506.37" width="8.03" height="33.83" fill="#801f6c"/>
<rect x="1431.48" y="514.47" width="8.03" height="25.73" fill="#5f136e"/>
<rect x="1439.51" y="510.37" width="8.03" height="29.83" fill="#71196e"/>
<rect x="1447.55" y="525.24" width="8.03" height="14.96" fill="#2f0a5b"/>
<rect x="1455.58" y="528.67" width="4.02" height="11.53" fill="#1e0c45"/>
<rect x="1065.90" y="491.22" width="4.02" height="0.75" fill="#a00000"/>
<rect x="1069.92" y="482.54" width="8.03" height="0.75" fill="#cd0000"/>
<rect x="1069.92" y="482.54" width="0.75" height="9.42" fill="#cd0000"/>
<rect x="1077.20" y="482.54" width="0.75" height="3.51" fill="#cd0000"/>
<rect x="1077.95" y="485.31" width="8.03" height="0.75" fill="#c10000"/>
<rect x="1085.99" y="483.40" width="8.03" height="0.75" fill="#ca0000"/>
<rect x="1085.99" y="483.40" width="0.75" height="2.66" fill="#ca0000"/>
<rect x="1093.27" y="483.40" width="0.75" height="9.14" fill="#ca0000"/>
<rect x="1094.02" y="491.79" width="8.03" height="0.75" fill="#9e0000"/>
<rect x="1102.06" y="486.36" width="8.03" height="0.75" fill="#bb0000"/>
<rect x="1102.06" y="486.36" width="0.75" height="6.18" fill="#bb0000"/>
<rect x="1110.09" y="485.02" width="8.03" height="0.75" fill="#c30000"/>
<rect x="1110.09" y="485.02" width="0.75" height="2.08" fill="#c30000"/>
<rect x="1117.38" y="485.02" width="0.75" height="3.04" fill="#c30000"/>
<rect x="1118.13" y="487.31" width="8.03" height="0.75" fill="#b70000"/>
<rect x="1126.16" y="464.34" width="8.03" height="0.75" fill="#fa7400"/>
<rect x="1126.16" y="464.34" width="0.75" height="23.72" fill="#fa7400"/>
<rect x="1134.19" y="457.48" width="8.03" height="0.75" fill="#f6ac00"/>
<rect x="1134.19" y="457.48" width="0.75" height="7.61" fill="#f6ac00"/>
<rect x="1142.23" y="449.47" width="8.03" height="0.75" fill="#eae730"/>
<rect x="1142.23" y="449.47" width="0.75" height="8.76" fill="#eae730"/>
<rect x="1149.51" y="449.47" width="0.75" height="15.62" fill="#eae730"/>
<rect x="1150.26" y="464.34" width="8.03" height="0.75" fill="#fa7400"/>
<rect x="1157.55" y="464.34" width="0.75" height="12.09" fill="#fa7400"/>
<rect x="1158.30" y="475.68" width="8.03" height="0.75" fill="#e82500"/>
<rect x="1166.33" y="474.92" width="8.03" height="0.75" fill="#ea2a00"/>
<rect x="1166.33" y="474.92" width="0.75" height="1.51" fill="#ea2a00"/>
<rect x="1173.62" y="474.92" width="0.75" height="2.18" fill="#ea2a00"/>
<rect x="1174.37" y="476.35" width="8.03" height="0.75" fill="#e52000"/>
<rect x="1181.65" y="476.35" width="0.75" height="9.99" fill="#e52000"/>
<rect x="1182.40" y="485.59" width="8.03" height="0.75" fill="#bf0000"/>
<rect x="1190.44" y="483.40" width="8.03" height="0.75" fill="#ca0000"/>
<rect x="1190.44" y="483.40" width="0.75" height="2.94" fill="#ca0000"/>
<rect x="1197.72" y="483.40" width="0.75" height="29.72" fill="#ca0000"/>
<rect x="1198.47" y="512.37" width="8.03" height="0.75" fill="#1b0026"/>
<rect x="1205.76" y="512.37" width="0.75" height="3.23" fill="#1b0026"/>
<rect x="1206.51" y="514.85" width="8.03" height="0.75" fill="#0d0026"/>
<rect x="1213.79" y="514.85" width="0.75" height="25.35" fill="#0d0026"/>
<rect x="1230.61" y="520.38" width="8.03" height="0.75" fill="#00001e"/>
<rect x="1230.61" y="520.38" width="0.75" height="19.82" fill="#00001e"/>
<rect x="1238.65" y="516.66" width="8.03" height="0.75" fill="#010024"/>
<rect x="1238.65" y="516.66" width="0.75" height="4.47" fill="#010024"/>
<rect x="1246.68" y="502.46" width="8.03" height="0.75" fill="#5b001c"/>
<rect x="1246.68" y="502.46" width="0.75" height="14.95" fill="#5b001c"/>
<rect x="1253.97" y="502.46" width="0.75" height="15.24" fill="#5b001c"/>
<rect x="1254.72" y="516.95" width="8.03" height="0.75" fill="#000024"/>
<rect x="1262.75" y="512.37" width="8.03" height="0.75" fill="#1b0026"/>
<rect x="1262.75" y="512.37" width="0.75" height="5.32" fill="#1b0026"/>
<rect x="1270.03" y="512.37" width="0.75" height="6.75" fill="#1b0026"/>
<rect x="1270.78" y="518.38" width="8.03" height="0.75" fill="#000022"/>
<rect x="1278.07" y="518.38" width="0.75" height="14.76" fill="#000022"/>
<rect x="1278.82" y="532.39" width="8.03" height="0.75" fill="#000000"/>
<rect x="1286.10" y="532.39" width="0.75" height="7.81" fill="#000000"/>
<rect x="1294.89" y="521.04" width="8.03" height="0.75" fill="#00001c"/>
<rect x="1294.89" y="521.04" width="0.75" height="19.16" fill="#00001c"/>
<rect x="1302.17" y="521.04" width="0.75" height="2.18" fill="#00001c"/>
<rect x="1302.92" y="522.47" width="8.03" height="0.75" fill="#000017"/>
<rect x="1310.96" y="519.33" width="8.03" height="0.75" fill="#000021"/>
<rect x="1310.96" y="519.33" width="0.75" height="3.89" fill="#000021"/>
<rect x="1318.99" y="515.61" width="8.03" height="0.75" fill="#080025"/>
<rect x="1318.99" y="515.61" width="0.75" height="4.47" fill="#080025"/>
<rect x="1326.28" y="515.61" width="0.75" height="3.70" fill="#080025"/>
<rect x="1327.03" y="518.57" width="8.03" height="0.75" fill="#000022"/>
<rect x="1334.31" y="518.57" width="0.75" height="4.66" fill="#000022"/>
<rect x="1335.06" y="522.47" width="8.03" height="0.75" fill="#000017"/>
<rect x="1343.10" y="516.95" width="8.03" height="0.75" fill="#000024"/>
<rect x="1343.10" y="516.95" width="0.75" height="6.28" fill="#000024"/>
<rect x="1350.38" y="516.95" width="0.75" height="5.13" fill="#000024"/>
<rect x="1351.13" y="521.33" width="8.03" height="0.75" fill="#00001b"/>
<rect x="1359.17" y="511.13" width="8.03" height="0.75" fill="#250026"/>
<rect x="1359.17" y="511.13" width="0.75" height="10.95" fill="#250026"/>
<rect x="1367.20" y="498.08" width="8.03" height="0.75" fill="#780011"/>
<rect x="1367.20" y="498.08" width="0.75" height="13.81" fill="#780011"/>
<rect x="1375.24" y="489.41" width="8.03" height="0.75" fill="#ab0000"/>
<rect x="1375.24" y="489.41" width="0.75" height="9.42" fill="#ab0000"/>
<rect x="1382.52" y="489.41" width="0.75" height="4.47" fill="#ab0000"/>
<rect x="1383.27" y="493.12" width="8.03" height="0.75" fill="#950002"/>
<rect x="1391.31" y="491.22" width="8.03" height="0.75" fill="#a00000"/>
<rect x="1391.31" y="491.22" width="0.75" height="2.66" fill="#a00000"/>
<rect x="1398.59" y="491.22" width="0.75" height="18.19" fill="#a00000"/>
<rect x="1399.34" y="508.66" width="8.03" height="0.75" fill="#330025"/>
<rect x="1406.62" y="508.66" width="0.75" height="11.42" fill="#330025"/>
<rect x="1407.37" y="519.33" width="8.03" height="0.75" fill="#000021"/>
<rect x="1415.41" y="519.33" width="8.03" height="0.75" fill="#000021"/>
<rect x="1423.44" y="506.37" width="8.03" height="0.75" fill="#410022"/>
<rect x="1423.44" y="506.37" width="0.75" height="13.71" fill="#410022"/>
<rect x="1430.73" y="506.37" width="0.75" height="8.85" fill="#410022"/>
<rect x="1431.48" y="514.47" width="8.03" height="0.75" fill="#0f0026"/>
<rect x="1439.51" y="510.37" width="8.03" height="0.75" fill="#290026"/>
<rect x="1439.51" y="510.37" width="0.75" height="4.85" fill="#290026"/>
<rect x="1446.80" y="510.37" width="0.75" height="15.62" fill="#290026"/>
<rect x="1447.55" y="525.24" width="8.03" height="0.75" fill="#000008"/>
<rect x="1454.83" y="525.24" width="0.75" height="4.18" fill="#000008"/>
<rect x="1455.58" y="528.67" width="4.02" height="0.75" fill="#000000"/>
</g>
<path d="M1138.70 444.90V540.20M1218.80 444.90V540.20M1299.50 444.90V540.20M1379.30 444.90V540.20" stroke="#c4c4c4" stroke-opacity="0.5" stroke-width="1.6" fill="none"/>
<path d="M1065.90 516.62H1459.60M1065.90 492.80H1459.60M1065.90 468.97H1459.60" stroke="#c4c4c4" stroke-opacity="0.5" stroke-width="1.6" fill="none"/>
<path d="M1459.60 516.37h6.6M1459.60 492.55h6.6M1459.60 468.72h6.6" stroke="#000" stroke-width="1.5" fill="none"/>
<rect x="1065.90" y="444.90" width="393.70" height="95.30" fill="none" stroke="#000" stroke-width="1.4"/>
<text transform="translate(1474.20,521.52) scale(0.945,1)">25</text>
<text transform="translate(1474.20,497.70) scale(0.945,1)">50</text>
<text transform="translate(1474.20,473.87) scale(0.945,1)">75</text>
</g>
<g>
<rect x="618.30" y="562.05" width="393.20" height="95.30" fill="#fff"/>
<clipPath id="cp6"><rect x="618.30" y="562.05" width="393.20" height="95.30"/></clipPath>
<g clip-path="url(#cp6)">
<rect x="621.71" y="620.66" width="1.2" height="36.69" fill="#8d2369"/>
<rect x="629.74" y="613.80" width="1.2" height="43.55" fill="#d94d3d"/>
<rect x="637.76" y="616.09" width="1.2" height="41.26" fill="#a92e5e"/>
<rect x="645.79" y="625.23" width="1.2" height="32.12" fill="#a02a63"/>
<rect x="653.81" y="645.15" width="1.2" height="12.20" fill="#7a1d6d"/>
<rect x="661.83" y="645.15" width="1.2" height="12.20" fill="#210c4a"/>
<rect x="669.86" y="647.63" width="1.2" height="9.72" fill="#470b6a"/>
<rect x="677.88" y="647.63" width="1.2" height="9.72" fill="#180c3c"/>
<rect x="685.91" y="651.35" width="1.2" height="6.00" fill="#180c3c"/>
<rect x="709.98" y="655.92" width="1.2" height="1.43" fill="#040312"/>
<rect x="718.01" y="655.92" width="1.2" height="1.43" fill="#010108"/>
<rect x="742.08" y="650.68" width="1.2" height="6.67" fill="#0c0826"/>
<rect x="750.10" y="643.91" width="1.2" height="13.44" fill="#380962"/>
<rect x="814.30" y="647.15" width="1.2" height="10.20" fill="#190c3e"/>
<rect x="822.32" y="646.20" width="1.2" height="11.15" fill="#1c0c43"/>
<rect x="830.35" y="640.67" width="1.2" height="16.68" fill="#360961"/>
<rect x="838.37" y="639.34" width="1.2" height="18.01" fill="#62146e"/>
<rect x="846.40" y="648.30" width="1.2" height="9.05" fill="#3d0965"/>
<rect x="854.42" y="648.30" width="1.2" height="9.05" fill="#150b37"/>
<rect x="862.45" y="645.25" width="1.2" height="12.10" fill="#210c4a"/>
<rect x="870.47" y="632.10" width="1.2" height="25.25" fill="#5c126e"/>
<rect x="878.50" y="636.29" width="1.2" height="21.06" fill="#ad305d"/>
<rect x="886.52" y="637.53" width="1.2" height="19.82" fill="#4a0c6b"/>
<rect x="894.54" y="637.53" width="1.2" height="19.82" fill="#450a69"/>
<rect x="902.57" y="631.33" width="1.2" height="26.02" fill="#5f136e"/>
<rect x="910.59" y="631.33" width="1.2" height="26.02" fill="#5f136e"/>
<rect x="918.62" y="616.94" width="1.2" height="40.41" fill="#a82e5f"/>
<rect x="926.64" y="620.66" width="1.2" height="36.69" fill="#9d2964"/>
<rect x="934.67" y="624.38" width="1.2" height="32.97" fill="#8d2369"/>
<rect x="942.69" y="624.38" width="1.2" height="32.97" fill="#7d1e6d"/>
<rect x="950.72" y="637.53" width="1.2" height="19.82" fill="#8d2369"/>
<rect x="958.74" y="637.53" width="1.2" height="19.82" fill="#450a69"/>
<rect x="966.77" y="643.91" width="1.2" height="13.44" fill="#59106e"/>
<rect x="974.79" y="643.91" width="1.2" height="13.44" fill="#280b53"/>
<rect x="982.81" y="633.81" width="1.2" height="23.54" fill="#550f6d"/>
<rect x="990.84" y="623.71" width="1.2" height="33.64" fill="#8c2369"/>
<rect x="998.86" y="629.90" width="1.2" height="27.45" fill="#801f6c"/>
<rect x="1006.89" y="629.90" width="1.2" height="27.45" fill="#65156e"/>
<rect x="618.30" y="620.66" width="4.01" height="36.69" fill="#8d2369"/>
<rect x="622.31" y="601.31" width="8.02" height="56.04" fill="#d94d3d"/>
<rect x="630.34" y="613.80" width="8.02" height="43.55" fill="#a92e5e"/>
<rect x="638.36" y="616.09" width="8.02" height="41.26" fill="#a02a63"/>
<rect x="646.39" y="625.23" width="8.02" height="32.12" fill="#7a1d6d"/>
<rect x="654.41" y="645.15" width="8.02" height="12.20" fill="#210c4a"/>
<rect x="662.43" y="636.96" width="8.02" height="20.39" fill="#470b6a"/>
<rect x="670.46" y="647.63" width="8.02" height="9.72" fill="#180c3c"/>
<rect x="678.48" y="647.63" width="8.02" height="9.72" fill="#180c3c"/>
<rect x="686.51" y="651.35" width="8.02" height="6.00" fill="#0b0724"/>
<rect x="702.56" y="654.21" width="8.02" height="3.14" fill="#040312"/>
<rect x="710.58" y="655.92" width="8.02" height="1.43" fill="#010108"/>
<rect x="718.61" y="655.92" width="8.02" height="1.43" fill="#010108"/>
<rect x="734.66" y="650.68" width="8.02" height="6.67" fill="#0c0826"/>
<rect x="742.68" y="640.29" width="8.02" height="17.06" fill="#380962"/>
<rect x="750.70" y="643.91" width="8.02" height="13.44" fill="#280b53"/>
<rect x="766.75" y="652.20" width="8.02" height="5.15" fill="#08051d"/>
<rect x="790.83" y="652.20" width="8.02" height="5.15" fill="#08051d"/>
<rect x="806.88" y="647.15" width="8.02" height="10.20" fill="#190c3e"/>
<rect x="814.90" y="646.20" width="8.02" height="11.15" fill="#1c0c43"/>
<rect x="822.92" y="640.67" width="8.02" height="16.68" fill="#360961"/>
<rect x="830.95" y="630.67" width="8.02" height="26.68" fill="#62146e"/>
<rect x="838.97" y="639.34" width="8.02" height="18.01" fill="#3d0965"/>
<rect x="847.00" y="648.30" width="8.02" height="9.05" fill="#150b37"/>
<rect x="855.02" y="645.25" width="8.02" height="12.10" fill="#210c4a"/>
<rect x="863.05" y="632.10" width="8.02" height="25.25" fill="#5c126e"/>
<rect x="871.07" y="613.13" width="8.02" height="44.22" fill="#ad305d"/>
<rect x="879.10" y="636.29" width="8.02" height="21.06" fill="#4a0c6b"/>
<rect x="887.12" y="637.53" width="8.02" height="19.82" fill="#450a69"/>
<rect x="895.14" y="631.33" width="8.02" height="26.02" fill="#5f136e"/>
<rect x="903.17" y="631.33" width="8.02" height="26.02" fill="#5f136e"/>
<rect x="911.19" y="614.18" width="8.02" height="43.17" fill="#a82e5f"/>
<rect x="919.22" y="616.94" width="8.02" height="40.41" fill="#9d2964"/>
<rect x="927.24" y="620.66" width="8.02" height="36.69" fill="#8d2369"/>
<rect x="935.27" y="624.38" width="8.02" height="32.97" fill="#7d1e6d"/>
<rect x="943.29" y="620.66" width="8.02" height="36.69" fill="#8d2369"/>
<rect x="951.32" y="637.53" width="8.02" height="19.82" fill="#450a69"/>
<rect x="959.34" y="632.86" width="8.02" height="24.49" fill="#59106e"/>
<rect x="967.37" y="643.91" width="8.02" height="13.44" fill="#280b53"/>
<rect x="975.39" y="633.81" width="8.02" height="23.54" fill="#550f6d"/>
<rect x="983.41" y="621.14" width="8.02" height="36.21" fill="#8c2369"/>
<rect x="991.44" y="623.71" width="8.02" height="33.64" fill="#801f6c"/>
<rect x="999.46" y="629.90" width="8.02" height="27.45" fill="#65156e"/>
<rect x="1007.49" y="613.51" width="4.01" height="43.84" fill="#ab2f5e"/>
<rect x="618.30" y="620.66" width="4.01" height="0.75" fill="#54001e"/>
<rect x="622.31" y="601.31" width="8.02" height="0.75" fill="#c60000"/>
<rect x="622.31" y="601.31" width="0.75" height="20.10" fill="#c60000"/>
<rect x="629.59" y="601.31" width="0.75" height="13.23" fill="#c60000"/>
<rect x="630.34" y="613.80" width="8.02" height="0.75" fill="#7f000e"/>
<rect x="637.61" y="613.80" width="0.75" height="3.04" fill="#7f000e"/>
<rect x="638.36" y="616.09" width="8.02" height="0.75" fill="#710014"/>
<rect x="645.64" y="616.09" width="0.75" height="9.90" fill="#710014"/>
<rect x="646.39" y="625.23" width="8.02" height="0.75" fill="#380024"/>
<rect x="653.66" y="625.23" width="0.75" height="20.67" fill="#380024"/>
<rect x="654.41" y="645.15" width="8.02" height="0.75" fill="#000000"/>
<rect x="662.43" y="636.96" width="8.02" height="0.75" fill="#00001f"/>
<rect x="662.43" y="636.96" width="0.75" height="8.95" fill="#00001f"/>
<rect x="669.71" y="636.96" width="0.75" height="11.42" fill="#00001f"/>
<rect x="670.46" y="647.63" width="8.02" height="0.75" fill="#000000"/>
<rect x="678.48" y="647.63" width="8.02" height="0.75" fill="#000000"/>
<rect x="685.76" y="647.63" width="0.75" height="4.47" fill="#000000"/>
<rect x="686.51" y="651.35" width="8.02" height="0.75" fill="#000000"/>
<rect x="693.78" y="651.35" width="0.75" height="6.00" fill="#000000"/>
<rect x="702.56" y="654.21" width="8.02" height="0.75" fill="#000000"/>
<rect x="702.56" y="654.21" width="0.75" height="3.14" fill="#000000"/>
<rect x="709.83" y="654.21" width="0.75" height="2.47" fill="#000000"/>
<rect x="710.58" y="655.92" width="8.02" height="0.75" fill="#000000"/>
<rect x="718.61" y="655.92" width="8.02" height="0.75" fill="#000000"/>
<rect x="725.88" y="655.92" width="0.75" height="1.43" fill="#000000"/>
<rect x="734.66" y="650.68" width="8.02" height="0.75" fill="#000000"/>
<rect x="734.66" y="650.68" width="0.75" height="6.67" fill="#000000"/>
<rect x="742.68" y="640.29" width="8.02" height="0.75" fill="#000013"/>
<rect x="742.68" y="640.29" width="0.75" height="11.14" fill="#000013"/>
<rect x="749.95" y="640.29" width="0.75" height="4.37" fill="#000013"/>
<rect x="750.70" y="643.91" width="8.02" height="0.75" fill="#000000"/>
<rect x="757.98" y="643.91" width="0.75" height="13.44" fill="#000000"/>
<rect x="766.75" y="652.20" width="8.02" height="0.75" fill="#000000"/>
<rect x="766.75" y="652.20" width="0.75" height="5.15" fill="#000000"/>
<rect x="774.03" y="652.20" width="0.75" height="5.15" fill="#000000"/>
<rect x="790.83" y="652.20" width="8.02" height="0.75" fill="#000000"/>
<rect x="790.83" y="652.20" width="0.75" height="5.15" fill="#000000"/>
<rect x="798.10" y="652.20" width="0.75" height="5.15" fill="#000000"/>
<rect x="806.88" y="647.15" width="8.02" height="0.75" fill="#000000"/>
<rect x="806.88" y="647.15" width="0.75" height="10.20" fill="#000000"/>
<rect x="814.90" y="646.20" width="8.02" height="0.75" fill="#000000"/>
<rect x="814.90" y="646.20" width="0.75" height="1.70" fill="#000000"/>
<rect x="822.92" y="640.67" width="8.02" height="0.75" fill="#000011"/>
<rect x="822.92" y="640.67" width="0.75" height="6.28" fill="#000011"/>
<rect x="830.95" y="630.67" width="8.02" height="0.75" fill="#140026"/>
<rect x="830.95" y="630.67" width="0.75" height="10.76" fill="#140026"/>
<rect x="838.22" y="630.67" width="0.75" height="9.42" fill="#140026"/>
<rect x="838.97" y="639.34" width="8.02" height="0.75" fill="#000018"/>
<rect x="846.25" y="639.34" width="0.75" height="9.71" fill="#000018"/>
<rect x="847.00" y="648.30" width="8.02" height="0.75" fill="#000000"/>
<rect x="855.02" y="645.25" width="8.02" height="0.75" fill="#000000"/>
<rect x="855.02" y="645.25" width="0.75" height="3.80" fill="#000000"/>
<rect x="863.05" y="632.10" width="8.02" height="0.75" fill="#0a0026"/>
<rect x="863.05" y="632.10" width="0.75" height="13.90" fill="#0a0026"/>
<rect x="871.07" y="613.13" width="8.02" height="0.75" fill="#83000c"/>
<rect x="871.07" y="613.13" width="0.75" height="19.71" fill="#83000c"/>
<rect x="878.35" y="613.13" width="0.75" height="23.91" fill="#83000c"/>
<rect x="879.10" y="636.29" width="8.02" height="0.75" fill="#000021"/>
<rect x="886.37" y="636.29" width="0.75" height="1.99" fill="#000021"/>
<rect x="887.12" y="637.53" width="8.02" height="0.75" fill="#00001e"/>
<rect x="895.14" y="631.33" width="8.02" height="0.75" fill="#0f0026"/>
<rect x="895.14" y="631.33" width="0.75" height="6.94" fill="#0f0026"/>
<rect x="903.17" y="631.33" width="8.02" height="0.75" fill="#0f0026"/>
<rect x="911.19" y="614.18" width="8.02" height="0.75" fill="#7c000f"/>
<rect x="911.19" y="614.18" width="0.75" height="17.90" fill="#7c000f"/>
<rect x="918.47" y="614.18" width="0.75" height="3.51" fill="#7c000f"/>
<rect x="919.22" y="616.94" width="8.02" height="0.75" fill="#6c0016"/>
<rect x="926.49" y="616.94" width="0.75" height="4.47" fill="#6c0016"/>
<rect x="927.24" y="620.66" width="8.02" height="0.75" fill="#54001e"/>
<rect x="934.52" y="620.66" width="0.75" height="4.47" fill="#54001e"/>
<rect x="935.27" y="624.38" width="8.02" height="0.75" fill="#3c0023"/>
<rect x="943.29" y="620.66" width="8.02" height="0.75" fill="#54001e"/>
<rect x="943.29" y="620.66" width="0.75" height="4.47" fill="#54001e"/>
<rect x="950.57" y="620.66" width="0.75" height="17.62" fill="#54001e"/>
<rect x="951.32" y="637.53" width="8.02" height="0.75" fill="#00001e"/>
<rect x="959.34" y="632.86" width="8.02" height="0.75" fill="#060025"/>
<rect x="959.34" y="632.86" width="0.75" height="5.42" fill="#060025"/>
<rect x="966.62" y="632.86" width="0.75" height="11.80" fill="#060025"/>
<rect x="967.37" y="643.91" width="8.02" height="0.75" fill="#000000"/>
<rect x="975.39" y="633.81" width="8.02" height="0.75" fill="#010024"/>
<rect x="975.39" y="633.81" width="0.75" height="10.85" fill="#010024"/>
<rect x="983.41" y="621.14" width="8.02" height="0.75" fill="#52001f"/>
<rect x="983.41" y="621.14" width="0.75" height="13.42" fill="#52001f"/>
<rect x="990.69" y="621.14" width="0.75" height="3.32" fill="#52001f"/>
<rect x="991.44" y="623.71" width="8.02" height="0.75" fill="#410022"/>
<rect x="998.71" y="623.71" width="0.75" height="6.94" fill="#410022"/>
<rect x="999.46" y="629.90" width="8.02" height="0.75" fill="#190026"/>
<rect x="1007.49" y="613.51" width="4.01" height="0.75" fill="#81000d"/>
<rect x="1007.49" y="613.51" width="0.75" height="17.14" fill="#81000d"/>
</g>
<path d="M691.10 562.05V657.35M771.20 562.05V657.35M851.90 562.05V657.35M931.70 562.05V657.35" stroke="#c4c4c4" stroke-opacity="0.5" stroke-width="1.6" fill="none"/>
<path d="M618.30 633.77H1011.50M618.30 609.95H1011.50M618.30 586.12H1011.50" stroke="#c4c4c4" stroke-opacity="0.5" stroke-width="1.6" fill="none"/>
<path d="M1011.50 633.52h6.6M1011.50 609.70h6.6M1011.50 585.88h6.6" stroke="#000" stroke-width="1.5" fill="none"/>
<rect x="618.30" y="562.05" width="393.20" height="95.30" fill="none" stroke="#000" stroke-width="1.4"/>
<text transform="translate(1026.10,638.67) scale(0.945,1)">25</text>
<text transform="translate(1026.10,614.85) scale(0.945,1)">50</text>
<text transform="translate(1026.10,591.02) scale(0.945,1)">75</text>
</g>
<g>
<rect x="1065.90" y="562.05" width="393.70" height="95.30" fill="#fff"/>
<clipPath id="cp7"><rect x="1065.90" y="562.05" width="393.70" height="95.30"/></clipPath>
<g clip-path="url(#cp7)">
<rect x="1069.32" y="653.82" width="1.2" height="3.53" fill="#040314"/>
<rect x="1077.35" y="653.82" width="1.2" height="3.53" fill="#040314"/>
<rect x="1085.39" y="652.20" width="1.2" height="5.15" fill="#260c51"/>
<rect x="1093.42" y="652.20" width="1.2" height="5.15" fill="#08051d"/>
<rect x="1101.46" y="637.91" width="1.2" height="19.44" fill="#440a68"/>
<rect x="1125.56" y="648.30" width="1.2" height="9.05" fill="#150b37"/>
<rect x="1149.66" y="636.86" width="1.2" height="20.49" fill="#490b6a"/>
<rect x="1157.70" y="645.15" width="1.2" height="12.20" fill="#62146e"/>
<rect x="1165.73" y="645.15" width="1.2" height="12.20" fill="#210c4a"/>
<rect x="1173.77" y="636.10" width="1.2" height="21.25" fill="#4c0c6b"/>
<rect x="1181.80" y="629.90" width="1.2" height="27.45" fill="#65156e"/>
<rect x="1189.84" y="625.71" width="1.2" height="31.64" fill="#7a1d6d"/>
<rect x="1197.87" y="625.71" width="1.2" height="31.64" fill="#771c6d"/>
<rect x="1205.91" y="622.95" width="1.2" height="34.40" fill="#84206b"/>
<rect x="1213.94" y="603.03" width="1.2" height="54.32" fill="#d34743"/>
<rect x="1221.98" y="591.97" width="1.2" height="65.38" fill="#fcaa0f"/>
<rect x="1230.01" y="591.97" width="1.2" height="65.38" fill="#f1711f"/>
<rect x="1238.05" y="590.83" width="1.2" height="66.52" fill="#f8850f"/>
<rect x="1246.08" y="590.83" width="1.2" height="66.52" fill="#f3761b"/>
<rect x="1254.12" y="596.83" width="1.2" height="60.52" fill="#f47918"/>
<rect x="1262.15" y="608.84" width="1.2" height="48.51" fill="#e65d2f"/>
<rect x="1270.18" y="614.08" width="1.2" height="43.27" fill="#bf3952"/>
<rect x="1278.22" y="625.90" width="1.2" height="31.45" fill="#a92e5e"/>
<rect x="1286.25" y="625.90" width="1.2" height="31.45" fill="#771c6d"/>
<rect x="1294.29" y="625.90" width="1.2" height="31.45" fill="#8c2369"/>
<rect x="1302.32" y="625.90" width="1.2" height="31.45" fill="#771c6d"/>
<rect x="1310.36" y="607.89" width="1.2" height="49.46" fill="#c13a50"/>
<rect x="1318.39" y="605.03" width="1.2" height="52.32" fill="#ec6726"/>
<rect x="1326.43" y="605.03" width="1.2" height="52.32" fill="#cc4248"/>
<rect x="1334.46" y="599.88" width="1.2" height="57.47" fill="#de5238"/>
<rect x="1342.50" y="591.78" width="1.2" height="65.57" fill="#f1731d"/>
<rect x="1350.53" y="605.03" width="1.2" height="52.32" fill="#fbb61a"/>
<rect x="1358.57" y="609.99" width="1.2" height="47.36" fill="#cc4248"/>
<rect x="1366.60" y="617.42" width="1.2" height="39.93" fill="#ba3655"/>
<rect x="1374.64" y="631.33" width="1.2" height="26.02" fill="#9b2964"/>
<rect x="1382.67" y="631.33" width="1.2" height="26.02" fill="#5f136e"/>
<rect x="1390.71" y="632.86" width="1.2" height="24.49" fill="#5f136e"/>
<rect x="1398.74" y="636.96" width="1.2" height="20.39" fill="#59106e"/>
<rect x="1406.77" y="640.96" width="1.2" height="16.39" fill="#470b6a"/>
<rect x="1414.81" y="640.96" width="1.2" height="16.39" fill="#360961"/>
<rect x="1422.84" y="654.59" width="1.2" height="2.76" fill="#64156e"/>
<rect x="1446.95" y="653.82" width="1.2" height="3.53" fill="#040314"/>
<rect x="1454.98" y="651.35" width="1.2" height="6.00" fill="#2f0a5b"/>
<rect x="1065.90" y="653.82" width="4.02" height="3.53" fill="#040314"/>
<rect x="1069.92" y="653.82" width="8.03" height="3.53" fill="#040314"/>
<rect x="1077.95" y="644.20" width="8.03" height="13.15" fill="#260c51"/>
<rect x="1085.99" y="652.20" width="8.03" height="5.15" fill="#08051d"/>
<rect x="1094.02" y="637.91" width="8.03" height="19.44" fill="#440a68"/>
<rect x="1102.06" y="637.24" width="8.03" height="20.11" fill="#470b6a"/>
<rect x="1118.13" y="648.30" width="8.03" height="9.05" fill="#150b37"/>
<rect x="1126.16" y="637.91" width="8.03" height="19.44" fill="#440a68"/>
<rect x="1142.23" y="636.86" width="8.03" height="20.49" fill="#490b6a"/>
<rect x="1150.26" y="630.57" width="8.03" height="26.78" fill="#62146e"/>
<rect x="1158.30" y="645.15" width="8.03" height="12.20" fill="#210c4a"/>
<rect x="1166.33" y="636.10" width="8.03" height="21.25" fill="#4c0c6b"/>
<rect x="1174.37" y="629.90" width="8.03" height="27.45" fill="#65156e"/>
<rect x="1182.40" y="625.04" width="8.03" height="32.31" fill="#7a1d6d"/>
<rect x="1190.44" y="625.71" width="8.03" height="31.64" fill="#771c6d"/>
<rect x="1198.47" y="622.95" width="8.03" height="34.40" fill="#84206b"/>
<rect x="1206.51" y="603.03" width="8.03" height="54.32" fill="#d34743"/>
<rect x="1214.54" y="580.16" width="8.03" height="77.19" fill="#fcaa0f"/>
<rect x="1222.58" y="591.97" width="8.03" height="65.38" fill="#f1711f"/>
<rect x="1230.61" y="587.40" width="8.03" height="69.95" fill="#f8850f"/>
<rect x="1238.65" y="590.83" width="8.03" height="66.52" fill="#f3761b"/>
<rect x="1246.68" y="590.16" width="8.03" height="67.19" fill="#f47918"/>
<rect x="1254.72" y="596.83" width="8.03" height="60.52" fill="#e65d2f"/>
<rect x="1262.75" y="608.84" width="8.03" height="48.51" fill="#bf3952"/>
<rect x="1270.78" y="614.08" width="8.03" height="43.27" fill="#a92e5e"/>
<rect x="1278.82" y="625.90" width="8.03" height="31.45" fill="#771c6d"/>
<rect x="1286.85" y="621.04" width="8.03" height="36.31" fill="#8c2369"/>
<rect x="1294.89" y="625.90" width="8.03" height="31.45" fill="#771c6d"/>
<rect x="1302.92" y="607.89" width="8.03" height="49.46" fill="#c13a50"/>
<rect x="1310.96" y="594.07" width="8.03" height="63.28" fill="#ec6726"/>
<rect x="1318.99" y="605.03" width="8.03" height="52.32" fill="#cc4248"/>
<rect x="1327.03" y="599.88" width="8.03" height="57.47" fill="#de5238"/>
<rect x="1335.06" y="591.78" width="8.03" height="65.57" fill="#f1731d"/>
<rect x="1343.10" y="577.97" width="8.03" height="79.38" fill="#fbb61a"/>
<rect x="1351.13" y="605.03" width="8.03" height="52.32" fill="#cc4248"/>
<rect x="1359.17" y="609.99" width="8.03" height="47.36" fill="#ba3655"/>
<rect x="1367.20" y="617.42" width="8.03" height="39.93" fill="#9b2964"/>
<rect x="1375.24" y="631.33" width="8.03" height="26.02" fill="#5f136e"/>
<rect x="1383.27" y="631.33" width="8.03" height="26.02" fill="#5f136e"/>
<rect x="1391.31" y="632.86" width="8.03" height="24.49" fill="#59106e"/>
<rect x="1399.34" y="636.96" width="8.03" height="20.39" fill="#470b6a"/>
<rect x="1407.37" y="640.96" width="8.03" height="16.39" fill="#360961"/>
<rect x="1415.41" y="630.28" width="8.03" height="27.07" fill="#64156e"/>
<rect x="1423.44" y="654.59" width="8.03" height="2.76" fill="#030210"/>
<rect x="1439.51" y="653.82" width="8.03" height="3.53" fill="#040314"/>
<rect x="1447.55" y="642.10" width="8.03" height="15.25" fill="#2f0a5b"/>
<rect x="1455.58" y="651.35" width="4.02" height="6.00" fill="#0b0724"/>
<rect x="1065.90" y="653.82" width="4.02" height="0.75" fill="#000000"/>
<rect x="1069.92" y="653.82" width="8.03" height="0.75" fill="#000000"/>
<rect x="1077.95" y="644.20" width="8.03" height="0.75" fill="#000000"/>
<rect x="1077.95" y="644.20" width="0.75" height="10.38" fill="#000000"/>
<rect x="1085.24" y="644.20" width="0.75" height="8.76" fill="#000000"/>
<rect x="1085.99" y="652.20" width="8.03" height="0.75" fill="#000000"/>
<rect x="1094.02" y="637.91" width="8.03" height="0.75" fill="#00001d"/>
<rect x="1094.02" y="637.91" width="0.75" height="15.04" fill="#00001d"/>
<rect x="1102.06" y="637.24" width="8.03" height="0.75" fill="#00001f"/>
<rect x="1102.06" y="637.24" width="0.75" height="1.42" fill="#00001f"/>
<rect x="1109.34" y="637.24" width="0.75" height="20.11" fill="#00001f"/>
<rect x="1118.13" y="648.30" width="8.03" height="0.75" fill="#000000"/>
<rect x="1118.13" y="648.30" width="0.75" height="9.05" fill="#000000"/>
<rect x="1126.16" y="637.91" width="8.03" height="0.75" fill="#00001d"/>
<rect x="1126.16" y="637.91" width="0.75" height="11.14" fill="#00001d"/>
<rect x="1133.44" y="637.91" width="0.75" height="19.44" fill="#00001d"/>
<rect x="1142.23" y="636.86" width="8.03" height="0.75" fill="#000020"/>
<rect x="1142.23" y="636.86" width="0.75" height="20.49" fill="#000020"/>
<rect x="1150.26" y="630.57" width="8.03" height="0.75" fill="#140026"/>
<rect x="1150.26" y="630.57" width="0.75" height="7.04" fill="#140026"/>
<rect x="1157.55" y="630.57" width="0.75" height="15.33" fill="#140026"/>
<rect x="1158.30" y="645.15" width="8.03" height="0.75" fill="#000000"/>
<rect x="1166.33" y="636.10" width="8.03" height="0.75" fill="#000021"/>
<rect x="1166.33" y="636.10" width="0.75" height="9.80" fill="#000021"/>
<rect x="1174.37" y="629.90" width="8.03" height="0.75" fill="#190026"/>
<rect x="1174.37" y="629.90" width="0.75" height="6.94" fill="#190026"/>
<rect x="1182.40" y="625.04" width="8.03" height="0.75" fill="#380024"/>
<rect x="1182.40" y="625.04" width="0.75" height="5.61" fill="#380024"/>
<rect x="1189.69" y="625.04" width="0.75" height="1.42" fill="#380024"/>
<rect x="1190.44" y="625.71" width="8.03" height="0.75" fill="#330025"/>
<rect x="1198.47" y="622.95" width="8.03" height="0.75" fill="#460021"/>
<rect x="1198.47" y="622.95" width="0.75" height="3.51" fill="#460021"/>
<rect x="1206.51" y="603.03" width="8.03" height="0.75" fill="#bd0000"/>
<rect x="1206.51" y="603.03" width="0.75" height="20.67" fill="#bd0000"/>
<rect x="1214.54" y="580.16" width="8.03" height="0.75" fill="#fa8000"/>
<rect x="1214.54" y="580.16" width="0.75" height="23.62" fill="#fa8000"/>
<rect x="1221.83" y="580.16" width="0.75" height="12.57" fill="#fa8000"/>
<rect x="1222.58" y="591.97" width="8.03" height="0.75" fill="#ea2a00"/>
<rect x="1230.61" y="587.40" width="8.03" height="0.75" fill="#f44800"/>
<rect x="1230.61" y="587.40" width="0.75" height="5.32" fill="#f44800"/>
<rect x="1237.90" y="587.40" width="0.75" height="4.18" fill="#f44800"/>
<rect x="1238.65" y="590.83" width="8.03" height="0.75" fill="#ed3100"/>
<rect x="1246.68" y="590.16" width="8.03" height="0.75" fill="#ee3600"/>
<rect x="1246.68" y="590.16" width="0.75" height="1.42" fill="#ee3600"/>
<rect x="1253.97" y="590.16" width="0.75" height="7.42" fill="#ee3600"/>
<rect x="1254.72" y="596.83" width="8.03" height="0.75" fill="#da0c00"/>
<rect x="1262.00" y="596.83" width="0.75" height="12.76" fill="#da0c00"/>
<rect x="1262.75" y="608.84" width="8.03" height="0.75" fill="#9e0000"/>
<rect x="1270.03" y="608.84" width="0.75" height="5.99" fill="#9e0000"/>
<rect x="1270.78" y="614.08" width="8.03" height="0.75" fill="#7f000e"/>
<rect x="1278.07" y="614.08" width="0.75" height="12.57" fill="#7f000e"/>
<rect x="1278.82" y="625.90" width="8.03" height="0.75" fill="#330025"/>
<rect x="1286.85" y="621.04" width="8.03" height="0.75" fill="#52001f"/>
<rect x="1286.85" y="621.04" width="0.75" height="5.61" fill="#52001f"/>
<rect x="1294.14" y="621.04" width="0.75" height="5.61" fill="#52001f"/>
<rect x="1294.89" y="625.90" width="8.03" height="0.75" fill="#330025"/>
<rect x="1302.92" y="607.89" width="8.03" height="0.75" fill="#a30000"/>
<rect x="1302.92" y="607.89" width="0.75" height="18.76" fill="#a30000"/>
<rect x="1310.96" y="594.07" width="8.03" height="0.75" fill="#e31c00"/>
<rect x="1310.96" y="594.07" width="0.75" height="14.57" fill="#e31c00"/>
<rect x="1318.24" y="594.07" width="0.75" height="11.71" fill="#e31c00"/>
<rect x="1318.99" y="605.03" width="8.03" height="0.75" fill="#b30000"/>
<rect x="1327.03" y="599.88" width="8.03" height="0.75" fill="#cd0000"/>
<rect x="1327.03" y="599.88" width="0.75" height="5.90" fill="#cd0000"/>
<rect x="1335.06" y="591.78" width="8.03" height="0.75" fill="#eb2c00"/>
<rect x="1335.06" y="591.78" width="0.75" height="8.85" fill="#eb2c00"/>
<rect x="1343.10" y="577.97" width="8.03" height="0.75" fill="#fa9100"/>
<rect x="1343.10" y="577.97" width="0.75" height="14.57" fill="#fa9100"/>
<rect x="1350.38" y="577.97" width="0.75" height="27.82" fill="#fa9100"/>
<rect x="1351.13" y="605.03" width="8.03" height="0.75" fill="#b30000"/>
<rect x="1358.42" y="605.03" width="0.75" height="5.71" fill="#b30000"/>
<rect x="1359.17" y="609.99" width="8.03" height="0.75" fill="#980000"/>
<rect x="1366.45" y="609.99" width="0.75" height="8.18" fill="#980000"/>
<rect x="1367.20" y="617.42" width="8.03" height="0.75" fill="#6a0017"/>
<rect x="1374.49" y="617.42" width="0.75" height="14.66" fill="#6a0017"/>
<rect x="1375.24" y="631.33" width="8.03" height="0.75" fill="#0f0026"/>
<rect x="1383.27" y="631.33" width="8.03" height="0.75" fill="#0f0026"/>
<rect x="1390.56" y="631.33" width="0.75" height="2.27" fill="#0f0026"/>
<rect x="1391.31" y="632.86" width="8.03" height="0.75" fill="#060025"/>
<rect x="1398.59" y="632.86" width="0.75" height="4.85" fill="#060025"/>
<rect x="1399.34" y="636.96" width="8.03" height="0.75" fill="#00001f"/>
<rect x="1406.62" y="636.96" width="0.75" height="4.75" fill="#00001f"/>
<rect x="1407.37" y="640.96" width="8.03" height="0.75" fill="#000011"/>
<rect x="1415.41" y="630.28" width="8.03" height="0.75" fill="#160026"/>
<rect x="1415.41" y="630.28" width="0.75" height="11.42" fill="#160026"/>
<rect x="1422.69" y="630.28" width="0.75" height="25.05" fill="#160026"/>
<rect x="1423.44" y="654.59" width="8.03" height="0.75" fill="#000000"/>
<rect x="1430.73" y="654.59" width="0.75" height="2.76" fill="#000000"/>
<rect x="1439.51" y="653.82" width="8.03" height="0.75" fill="#000000"/>
<rect x="1439.51" y="653.82" width="0.75" height="3.53" fill="#000000"/>
<rect x="1447.55" y="642.10" width="8.03" height="0.75" fill="#000008"/>
<rect x="1447.55" y="642.10" width="0.75" height="12.47" fill="#000008"/>
<rect x="1454.83" y="642.10" width="0.75" height="9.99" fill="#000008"/>
<rect x="1455.58" y="651.35" width="4.02" height="0.75" fill="#000000"/>
</g>
<path d="M1138.70 562.05V657.35M1218.80 562.05V657.35M1299.50 562.05V657.35M1379.30 562.05V657.35" stroke="#c4c4c4" stroke-opacity="0.5" stroke-width="1.6" fill="none"/>
<path d="M1065.90 633.77H1459.60M1065.90 609.95H1459.60M1065.90 586.12H1459.60" stroke="#c4c4c4" stroke-opacity="0.5" stroke-width="1.6" fill="none"/>
<path d="M1459.60 633.52h6.6M1459.60 609.70h6.6M1459.60 585.88h6.6" stroke="#000" stroke-width="1.5" fill="none"/>
<rect x="1065.90" y="562.05" width="393.70" height="95.30" fill="none" stroke="#000" stroke-width="1.4"/>
<text transform="translate(1474.20,638.67) scale(0.945,1)">25</text>
<text transform="translate(1474.20,614.85) scale(0.945,1)">50</text>
<text transform="translate(1474.20,591.02) scale(0.945,1)">75</text>
</g>
</g>
</svg>
<h2 class="t" style="left:17px"><span id="w1" style="letter-spacing:-1.3px">CPU</span> <span id="w2" style="letter-spacing:0.2px;margin-left:-0.79px">Usage</span> <span id="w3" style="display:inline-block;transform-origin:0 50%;transform:scaleX(0.908);margin-left:-2.03px">%</span></h2>
<div class="t lbl" style="left:55px;top:119.5px;letter-spacing:0.65px">Colormap</div>
<div class="t lbl" style="left:75.5px;top:179.5px;letter-spacing:0.65px">inferno</div>
<div class="t" style="left:69px;top:258px;font-size:21px;letter-spacing:0.6px;color:#000;-webkit-text-stroke:0.3px #000">Clear history</div>
<div class="t lbl" style="left:117px;top:324.1px;letter-spacing:0.47px">Freeze output</div>
<div class="t lbl" style="left:55px;top:364.7px;letter-spacing:0.41px">Note: the CPU data is simulated when</div>
<div class="t lbl" style="left:55px;top:401.1px;letter-spacing:0.35px">running in Shinylive.</div>
<div class="t" style="left:595.8px;top:143.4px;font-size:30px;font-weight:500;letter-spacing:0.42px;-webkit-text-stroke:0.45px #1d1f21;transform-origin:0 25.4px;transform:scaleY(1.07)">Graphs</div>
<div class="t lbl" style="left:596.2px;top:724.6px;letter-spacing:0.55px">Number of samples per graph</div>
<div class="t lbl" style="left:616px;top:785.1px;letter-spacing:1.8px">50</div>
</body></html>
